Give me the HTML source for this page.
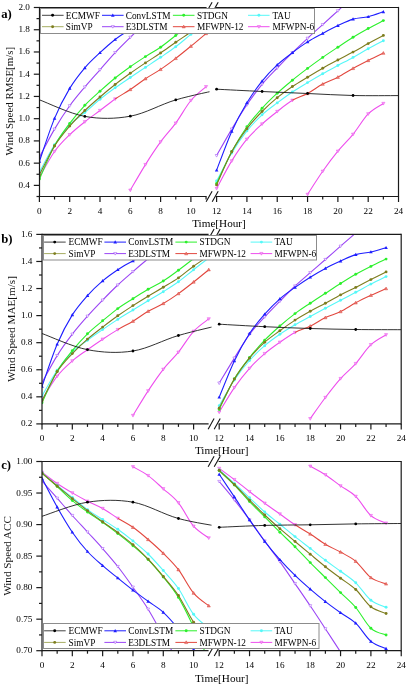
<!DOCTYPE html>
<html><head><meta charset="utf-8"><title>Wind speed metrics</title><style>html,body{margin:0;padding:0;background:#fff;width:407px;height:685px;overflow:hidden;}svg{display:block;font-family:"Liberation Serif",serif;will-change:transform;}</style></head><body><svg width="407" height="685" viewBox="0 0 407 685"><rect width="407" height="685" fill="#fff"/>
<defs><clipPath id="cl0"><rect x="39.5" y="7.5" width="170" height="189"/></clipPath><clipPath id="cr0"><rect x="214.4" y="7.5" width="184.1" height="189"/></clipPath></defs>
<g clip-path="url(#cl0)" fill="none" stroke-width="1.1" stroke-linejoin="round">
<path d="M130.3,190.2 C132.83,185.93 140.4,172.65 145.45,164.6 C150.5,156.55 155.55,148.82 160.6,141.9 C165.65,134.98 170.7,130 175.75,123.1 C180.8,116.2 185.85,106.57 190.9,100.5 C195.95,94.43 203.53,89 206.05,86.7" stroke="#ee4eee"/>
<path d="M130.3,191.8 L131.9,189 L128.7,189 Z" fill="#f0a0f0" stroke="#ee4eee" stroke-width="0.5"/>
<path d="M145.45,166.2 L147.05,163.4 L143.85,163.4 Z" fill="#f0a0f0" stroke="#ee4eee" stroke-width="0.5"/>
<path d="M160.6,143.5 L162.2,140.7 L159,140.7 Z" fill="#f0a0f0" stroke="#ee4eee" stroke-width="0.5"/>
<path d="M175.75,124.7 L177.35,121.9 L174.15,121.9 Z" fill="#f0a0f0" stroke="#ee4eee" stroke-width="0.5"/>
<path d="M190.9,102.1 L192.5,99.3 L189.3,99.3 Z" fill="#f0a0f0" stroke="#ee4eee" stroke-width="0.5"/>
<path d="M206.05,88.3 L207.65,85.5 L204.45,85.5 Z" fill="#f0a0f0" stroke="#ee4eee" stroke-width="0.5"/>
<path d="M39.4,177.4 C41.92,173.08 49.5,158.62 54.55,151.5 C59.6,144.38 64.65,139.65 69.7,134.7 C74.75,129.75 79.8,125.83 84.85,121.8 C89.9,117.77 94.95,114.3 100,110.5 C105.05,106.7 110.1,102.5 115.15,99" stroke="#ee4eee"/>
<path d="M39.4,179 L41,176.2 L37.8,176.2 Z" fill="#f0a0f0" stroke="#ee4eee" stroke-width="0.5"/>
<path d="M54.55,153.1 L56.15,150.3 L52.95,150.3 Z" fill="#f0a0f0" stroke="#ee4eee" stroke-width="0.5"/>
<path d="M69.7,136.3 L71.3,133.5 L68.1,133.5 Z" fill="#f0a0f0" stroke="#ee4eee" stroke-width="0.5"/>
<path d="M84.85,123.4 L86.45,120.6 L83.25,120.6 Z" fill="#f0a0f0" stroke="#ee4eee" stroke-width="0.5"/>
<path d="M100,112.1 L101.6,109.3 L98.4,109.3 Z" fill="#f0a0f0" stroke="#ee4eee" stroke-width="0.5"/>
<path d="M115.15,100.6 L116.75,97.8 L113.55,97.8 Z" fill="#f0a0f0" stroke="#ee4eee" stroke-width="0.5"/>
<path d="M39.4,172 C41.92,167.47 49.5,152.63 54.55,144.8 C59.6,136.97 64.65,130.38 69.7,125 C74.75,119.62 79.8,116.78 84.85,112.5 C89.9,108.22 94.95,103.42 100,99.3 C105.05,95.18 110.1,91.43 115.15,87.8 C120.2,84.17 125.25,80.9 130.3,77.5 C135.35,74.1 140.4,70.77 145.45,67.4 C150.5,64.03 155.55,60.73 160.6,57.3 C165.65,53.87 170.7,50.62 175.75,46.8 C180.8,42.98 185.85,38.37 190.9,34.4 C195.95,30.43 203.53,24.9 206.05,23" stroke="#55f8f8"/>
<circle cx="39.4" cy="172" r="1.45" fill="#55f8f8"/>
<circle cx="54.55" cy="144.8" r="1.45" fill="#55f8f8"/>
<circle cx="69.7" cy="125" r="1.45" fill="#55f8f8"/>
<circle cx="84.85" cy="112.5" r="1.45" fill="#55f8f8"/>
<circle cx="100" cy="99.3" r="1.45" fill="#55f8f8"/>
<circle cx="115.15" cy="87.8" r="1.45" fill="#55f8f8"/>
<circle cx="130.3" cy="77.5" r="1.45" fill="#55f8f8"/>
<circle cx="145.45" cy="67.4" r="1.45" fill="#55f8f8"/>
<circle cx="160.6" cy="57.3" r="1.45" fill="#55f8f8"/>
<circle cx="175.75" cy="46.8" r="1.45" fill="#55f8f8"/>
<circle cx="190.9" cy="34.4" r="1.45" fill="#55f8f8"/>
<circle cx="206.05" cy="23" r="1.45" fill="#55f8f8"/>
<path d="M115.15,99 C120.2,95.5 125.25,92.88 130.3,89.5 C135.35,86.12 140.4,82.05 145.45,78.7 C150.5,75.35 155.55,72.78 160.6,69.4 C165.65,66.02 170.7,62.27 175.75,58.4 C180.8,54.53 185.85,50.35 190.9,46.2 C195.95,42.05 203.53,35.62 206.05,33.5" stroke="#e2483f"/>
<path d="M130.3,87.9 L131.9,90.7 L128.7,90.7 Z" fill="#e37d78" stroke="#e2483f" stroke-width="0.5"/>
<path d="M145.45,77.1 L147.05,79.9 L143.85,79.9 Z" fill="#e37d78" stroke="#e2483f" stroke-width="0.5"/>
<path d="M160.6,67.8 L162.2,70.6 L159,70.6 Z" fill="#e37d78" stroke="#e2483f" stroke-width="0.5"/>
<path d="M175.75,56.8 L177.35,59.6 L174.15,59.6 Z" fill="#e37d78" stroke="#e2483f" stroke-width="0.5"/>
<path d="M190.9,44.6 L192.5,47.4 L189.3,47.4 Z" fill="#e37d78" stroke="#e2483f" stroke-width="0.5"/>
<path d="M206.05,31.9 L207.65,34.7 L204.45,34.7 Z" fill="#e37d78" stroke="#e2483f" stroke-width="0.5"/>
<path d="M39.4,179 C41.92,173.47 49.5,155.07 54.55,145.8 C59.6,136.53 64.65,130.15 69.7,123.4 C74.75,116.65 79.8,110.67 84.85,105.3 C89.9,99.93 94.95,95.75 100,91.2 C105.05,86.65 110.1,82.08 115.15,78 C120.2,73.92 125.25,70.27 130.3,66.7 C135.35,63.13 140.4,59.85 145.45,56.6 C150.5,53.35 155.55,50.72 160.6,47.2 C165.65,43.68 170.7,39.37 175.75,35.5 C180.8,31.63 185.85,27.75 190.9,24 C195.95,20.25 203.53,14.83 206.05,13" stroke="#2cf02c"/>
<circle cx="39.4" cy="179" r="1.45" fill="#2cf02c"/>
<circle cx="54.55" cy="145.8" r="1.45" fill="#2cf02c"/>
<circle cx="69.7" cy="123.4" r="1.45" fill="#2cf02c"/>
<circle cx="84.85" cy="105.3" r="1.45" fill="#2cf02c"/>
<circle cx="100" cy="91.2" r="1.45" fill="#2cf02c"/>
<circle cx="115.15" cy="78" r="1.45" fill="#2cf02c"/>
<circle cx="130.3" cy="66.7" r="1.45" fill="#2cf02c"/>
<circle cx="145.45" cy="56.6" r="1.45" fill="#2cf02c"/>
<circle cx="160.6" cy="47.2" r="1.45" fill="#2cf02c"/>
<circle cx="175.75" cy="35.5" r="1.45" fill="#2cf02c"/>
<circle cx="190.9" cy="24" r="1.45" fill="#2cf02c"/>
<circle cx="206.05" cy="13" r="1.45" fill="#2cf02c"/>
<path d="M39.4,157.2 C41.92,152.52 49.5,137.67 54.55,129.1 C59.6,120.53 64.65,112.82 69.7,105.8 C74.75,98.78 79.8,93 84.85,87 C89.9,81 94.95,75.53 100,69.8 C105.05,64.07 110.1,58.02 115.15,52.6 C120.2,47.18 125.25,42.23 130.3,37.3 C135.35,32.37 140.4,27.55 145.45,23 C150.5,18.45 155.55,14.33 160.6,10 C165.65,5.67 170.7,1.17 175.75,-3 C180.8,-7.17 185.85,-11 190.9,-15 C195.95,-19 203.53,-25 206.05,-27" stroke="#9b45f5"/>
<path d="M39.4,158.7 L40.9,156.07 L37.9,156.07 Z" fill="#fff" stroke="#9b45f5" stroke-width="0.5"/>
<path d="M54.55,130.6 L56.05,127.97 L53.05,127.97 Z" fill="#fff" stroke="#9b45f5" stroke-width="0.5"/>
<path d="M69.7,107.3 L71.2,104.67 L68.2,104.67 Z" fill="#fff" stroke="#9b45f5" stroke-width="0.5"/>
<path d="M84.85,88.5 L86.35,85.88 L83.35,85.88 Z" fill="#fff" stroke="#9b45f5" stroke-width="0.5"/>
<path d="M100,71.3 L101.5,68.67 L98.5,68.67 Z" fill="#fff" stroke="#9b45f5" stroke-width="0.5"/>
<path d="M115.15,54.1 L116.65,51.48 L113.65,51.48 Z" fill="#fff" stroke="#9b45f5" stroke-width="0.5"/>
<path d="M130.3,38.8 L131.8,36.17 L128.8,36.17 Z" fill="#fff" stroke="#9b45f5" stroke-width="0.5"/>
<path d="M145.45,24.5 L146.95,21.88 L143.95,21.88 Z" fill="#fff" stroke="#9b45f5" stroke-width="0.5"/>
<path d="M160.6,11.5 L162.1,8.88 L159.1,8.88 Z" fill="#fff" stroke="#9b45f5" stroke-width="0.5"/>
<path d="M175.75,-1.5 L177.25,-4.12 L174.25,-4.12 Z" fill="#fff" stroke="#9b45f5" stroke-width="0.5"/>
<path d="M190.9,-13.5 L192.4,-16.12 L189.4,-16.12 Z" fill="#fff" stroke="#9b45f5" stroke-width="0.5"/>
<path d="M206.05,-25.5 L207.55,-28.12 L204.55,-28.12 Z" fill="#fff" stroke="#9b45f5" stroke-width="0.5"/>
<path d="M39.4,161.4 C41.92,154.23 49.5,130.57 54.55,118.4 C59.6,106.23 64.65,96.83 69.7,88.4 C74.75,79.97 79.8,73.75 84.85,67.8 C89.9,61.85 94.95,57.42 100,52.7 C105.05,47.98 110.1,43.37 115.15,39.5 C120.2,35.63 125.25,32.58 130.3,29.5 C135.35,26.42 140.4,23.58 145.45,21 C150.5,18.42 155.55,16.17 160.6,14 C165.65,11.83 170.7,9.83 175.75,8 C180.8,6.17 185.85,4.5 190.9,3 C195.95,1.5 203.53,-0.33 206.05,-1" stroke="#1e1eff"/>
<path d="M39.4,159.6 L41.2,162.75 L37.6,162.75 Z" fill="#1e1eff"/>
<path d="M54.55,116.6 L56.35,119.75 L52.75,119.75 Z" fill="#1e1eff"/>
<path d="M69.7,86.6 L71.5,89.75 L67.9,89.75 Z" fill="#1e1eff"/>
<path d="M84.85,66 L86.65,69.15 L83.05,69.15 Z" fill="#1e1eff"/>
<path d="M100,50.9 L101.8,54.05 L98.2,54.05 Z" fill="#1e1eff"/>
<path d="M115.15,37.7 L116.95,40.85 L113.35,40.85 Z" fill="#1e1eff"/>
<path d="M130.3,27.7 L132.1,30.85 L128.5,30.85 Z" fill="#1e1eff"/>
<path d="M145.45,19.2 L147.25,22.35 L143.65,22.35 Z" fill="#1e1eff"/>
<path d="M160.6,12.2 L162.4,15.35 L158.8,15.35 Z" fill="#1e1eff"/>
<path d="M175.75,6.2 L177.55,9.35 L173.95,9.35 Z" fill="#1e1eff"/>
<path d="M190.9,1.2 L192.7,4.35 L189.1,4.35 Z" fill="#1e1eff"/>
<path d="M206.05,-2.8 L207.85,0.35 L204.25,0.35 Z" fill="#1e1eff"/>
<path d="M39.4,174.9 C41.92,170.08 49.5,154.13 54.55,146 C59.6,137.87 64.65,132.02 69.7,126.1 C74.75,120.18 79.8,115.35 84.85,110.5 C89.9,105.65 94.95,101.33 100,97 C105.05,92.67 110.1,88.45 115.15,84.5 C120.2,80.55 125.25,76.9 130.3,73.3 C135.35,69.7 140.4,66.28 145.45,62.9 C150.5,59.52 155.55,56.43 160.6,53 C165.65,49.57 170.7,45.8 175.75,42.3 C180.8,38.8 185.85,35.55 190.9,32 C195.95,28.45 203.53,22.83 206.05,21" stroke="#7d7d1e"/>
<circle cx="39.4" cy="174.9" r="1.45" fill="#7d7d1e"/>
<circle cx="54.55" cy="146" r="1.45" fill="#7d7d1e"/>
<circle cx="69.7" cy="126.1" r="1.45" fill="#7d7d1e"/>
<circle cx="84.85" cy="110.5" r="1.45" fill="#7d7d1e"/>
<circle cx="100" cy="97" r="1.45" fill="#7d7d1e"/>
<circle cx="115.15" cy="84.5" r="1.45" fill="#7d7d1e"/>
<circle cx="130.3" cy="73.3" r="1.45" fill="#7d7d1e"/>
<circle cx="145.45" cy="62.9" r="1.45" fill="#7d7d1e"/>
<circle cx="160.6" cy="53" r="1.45" fill="#7d7d1e"/>
<circle cx="175.75" cy="42.3" r="1.45" fill="#7d7d1e"/>
<circle cx="190.9" cy="32" r="1.45" fill="#7d7d1e"/>
<circle cx="206.05" cy="21" r="1.45" fill="#7d7d1e"/>
<path d="M39.4,99.8 C46.97,102.57 69.7,113.67 84.85,116.4 C100,119.13 115.15,118.95 130.3,116.2 C145.45,113.45 160.6,104.4 175.75,99.9 C190.9,95.4 213.62,90.98 221.2,89.2" stroke="#1a1a1a" stroke-width="0.9"/>
<circle cx="84.85" cy="116.4" r="1.38" fill="#000"/>
<circle cx="130.3" cy="116.2" r="1.38" fill="#000"/>
<circle cx="175.75" cy="99.9" r="1.38" fill="#000"/>
</g>
<g clip-path="url(#cr0)" fill="none" stroke-width="1.1" stroke-linejoin="round">
<path d="M307.56,194.4 C310.09,190.55 317.67,178.5 322.72,171.3 C327.77,164.1 332.83,157.37 337.88,151.2 C342.93,145.03 347.99,140.52 353.04,134.3 C358.09,128.08 363.15,119.03 368.2,113.9 C373.25,108.77 380.83,105.23 383.36,103.5" stroke="#ee4eee"/>
<path d="M307.56,196 L309.16,193.2 L305.96,193.2 Z" fill="#f0a0f0" stroke="#ee4eee" stroke-width="0.5"/>
<path d="M322.72,172.9 L324.32,170.1 L321.12,170.1 Z" fill="#f0a0f0" stroke="#ee4eee" stroke-width="0.5"/>
<path d="M337.88,152.8 L339.48,150 L336.28,150 Z" fill="#f0a0f0" stroke="#ee4eee" stroke-width="0.5"/>
<path d="M353.04,135.9 L354.64,133.1 L351.44,133.1 Z" fill="#f0a0f0" stroke="#ee4eee" stroke-width="0.5"/>
<path d="M368.2,115.5 L369.8,112.7 L366.6,112.7 Z" fill="#f0a0f0" stroke="#ee4eee" stroke-width="0.5"/>
<path d="M383.36,105.1 L384.96,102.3 L381.76,102.3 Z" fill="#f0a0f0" stroke="#ee4eee" stroke-width="0.5"/>
<path d="M216.6,188.5 C219.13,183.9 226.71,169.12 231.76,160.9 C236.81,152.68 241.87,145.35 246.92,139.2 C251.97,133.05 257.03,128.62 262.08,124 C267.13,119.38 272.19,115.45 277.24,111.5 C282.29,107.55 287.35,103.3 292.4,100.3" stroke="#ee4eee"/>
<path d="M216.6,190.1 L218.2,187.3 L215,187.3 Z" fill="#f0a0f0" stroke="#ee4eee" stroke-width="0.5"/>
<path d="M231.76,162.5 L233.36,159.7 L230.16,159.7 Z" fill="#f0a0f0" stroke="#ee4eee" stroke-width="0.5"/>
<path d="M246.92,140.8 L248.52,138 L245.32,138 Z" fill="#f0a0f0" stroke="#ee4eee" stroke-width="0.5"/>
<path d="M262.08,125.6 L263.68,122.8 L260.48,122.8 Z" fill="#f0a0f0" stroke="#ee4eee" stroke-width="0.5"/>
<path d="M277.24,113.1 L278.84,110.3 L275.64,110.3 Z" fill="#f0a0f0" stroke="#ee4eee" stroke-width="0.5"/>
<path d="M292.4,101.9 L294,99.1 L290.8,99.1 Z" fill="#f0a0f0" stroke="#ee4eee" stroke-width="0.5"/>
<path d="M216.6,181 C219.13,176.33 226.71,161.35 231.76,153 C236.81,144.65 241.87,137.27 246.92,130.9 C251.97,124.53 257.03,119.47 262.08,114.8 C267.13,110.13 272.19,106.7 277.24,102.9 C282.29,99.1 287.35,95.38 292.4,92 C297.45,88.62 302.51,85.65 307.56,82.6 C312.61,79.55 317.67,76.55 322.72,73.7 C327.77,70.85 332.83,68.22 337.88,65.5 C342.93,62.78 347.99,60.2 353.04,57.4 C358.09,54.6 363.15,51.48 368.2,48.7 C373.25,45.92 380.83,42.03 383.36,40.7" stroke="#55f8f8"/>
<circle cx="216.6" cy="181" r="1.45" fill="#55f8f8"/>
<circle cx="231.76" cy="153" r="1.45" fill="#55f8f8"/>
<circle cx="246.92" cy="130.9" r="1.45" fill="#55f8f8"/>
<circle cx="262.08" cy="114.8" r="1.45" fill="#55f8f8"/>
<circle cx="277.24" cy="102.9" r="1.45" fill="#55f8f8"/>
<circle cx="292.4" cy="92" r="1.45" fill="#55f8f8"/>
<circle cx="307.56" cy="82.6" r="1.45" fill="#55f8f8"/>
<circle cx="322.72" cy="73.7" r="1.45" fill="#55f8f8"/>
<circle cx="337.88" cy="65.5" r="1.45" fill="#55f8f8"/>
<circle cx="353.04" cy="57.4" r="1.45" fill="#55f8f8"/>
<circle cx="368.2" cy="48.7" r="1.45" fill="#55f8f8"/>
<circle cx="383.36" cy="40.7" r="1.45" fill="#55f8f8"/>
<path d="M292.4,100.3 C297.45,97.3 302.51,96.2 307.56,93.5 C312.61,90.8 317.67,86.82 322.72,84.1 C327.77,81.38 332.83,79.82 337.88,77.2 C342.93,74.58 347.99,71.18 353.04,68.4 C358.09,65.62 363.15,63.05 368.2,60.5 C373.25,57.95 380.83,54.33 383.36,53.1" stroke="#e2483f"/>
<path d="M307.56,91.9 L309.16,94.7 L305.96,94.7 Z" fill="#e37d78" stroke="#e2483f" stroke-width="0.5"/>
<path d="M322.72,82.5 L324.32,85.3 L321.12,85.3 Z" fill="#e37d78" stroke="#e2483f" stroke-width="0.5"/>
<path d="M337.88,75.6 L339.48,78.4 L336.28,78.4 Z" fill="#e37d78" stroke="#e2483f" stroke-width="0.5"/>
<path d="M353.04,66.8 L354.64,69.6 L351.44,69.6 Z" fill="#e37d78" stroke="#e2483f" stroke-width="0.5"/>
<path d="M368.2,58.9 L369.8,61.7 L366.6,61.7 Z" fill="#e37d78" stroke="#e2483f" stroke-width="0.5"/>
<path d="M383.36,51.5 L384.96,54.3 L381.76,54.3 Z" fill="#e37d78" stroke="#e2483f" stroke-width="0.5"/>
<path d="M216.6,183.5 C219.13,178.17 226.71,160.97 231.76,151.5 C236.81,142.03 241.87,133.9 246.92,126.7 C251.97,119.5 257.03,113.88 262.08,108.3 C267.13,102.72 272.19,97.88 277.24,93.2 C282.29,88.52 287.35,84.33 292.4,80.2 C297.45,76.07 302.51,72.2 307.56,68.4 C312.61,64.6 317.67,60.93 322.72,57.4 C327.77,53.87 332.83,50.55 337.88,47.2 C342.93,43.85 347.99,40.42 353.04,37.3 C358.09,34.18 363.15,31.28 368.2,28.5 C373.25,25.72 380.83,21.92 383.36,20.6" stroke="#2cf02c"/>
<circle cx="216.6" cy="183.5" r="1.45" fill="#2cf02c"/>
<circle cx="231.76" cy="151.5" r="1.45" fill="#2cf02c"/>
<circle cx="246.92" cy="126.7" r="1.45" fill="#2cf02c"/>
<circle cx="262.08" cy="108.3" r="1.45" fill="#2cf02c"/>
<circle cx="277.24" cy="93.2" r="1.45" fill="#2cf02c"/>
<circle cx="292.4" cy="80.2" r="1.45" fill="#2cf02c"/>
<circle cx="307.56" cy="68.4" r="1.45" fill="#2cf02c"/>
<circle cx="322.72" cy="57.4" r="1.45" fill="#2cf02c"/>
<circle cx="337.88" cy="47.2" r="1.45" fill="#2cf02c"/>
<circle cx="353.04" cy="37.3" r="1.45" fill="#2cf02c"/>
<circle cx="368.2" cy="28.5" r="1.45" fill="#2cf02c"/>
<circle cx="383.36" cy="20.6" r="1.45" fill="#2cf02c"/>
<path d="M216.6,155.6 C219.13,151.18 226.71,137.57 231.76,129.1 C236.81,120.63 241.87,112.27 246.92,104.8 C251.97,97.33 257.03,90.43 262.08,84.3 C267.13,78.17 272.19,73.27 277.24,68 C282.29,62.73 287.35,57.65 292.4,52.7 C297.45,47.75 302.51,42.98 307.56,38.3 C312.61,33.62 317.67,29.18 322.72,24.6 C327.77,20.02 332.83,15.4 337.88,10.8 C342.93,6.2 347.99,1.47 353.04,-3 C358.09,-7.47 363.15,-11.67 368.2,-16 C373.25,-20.33 380.83,-26.83 383.36,-29" stroke="#9b45f5"/>
<path d="M216.6,157.1 L218.1,154.47 L215.1,154.47 Z" fill="#fff" stroke="#9b45f5" stroke-width="0.5"/>
<path d="M231.76,130.6 L233.26,127.97 L230.26,127.97 Z" fill="#fff" stroke="#9b45f5" stroke-width="0.5"/>
<path d="M246.92,106.3 L248.42,103.67 L245.42,103.67 Z" fill="#fff" stroke="#9b45f5" stroke-width="0.5"/>
<path d="M262.08,85.8 L263.58,83.17 L260.58,83.17 Z" fill="#fff" stroke="#9b45f5" stroke-width="0.5"/>
<path d="M277.24,69.5 L278.74,66.88 L275.74,66.88 Z" fill="#fff" stroke="#9b45f5" stroke-width="0.5"/>
<path d="M292.4,54.2 L293.9,51.58 L290.9,51.58 Z" fill="#fff" stroke="#9b45f5" stroke-width="0.5"/>
<path d="M307.56,39.8 L309.06,37.17 L306.06,37.17 Z" fill="#fff" stroke="#9b45f5" stroke-width="0.5"/>
<path d="M322.72,26.1 L324.22,23.48 L321.22,23.48 Z" fill="#fff" stroke="#9b45f5" stroke-width="0.5"/>
<path d="M337.88,12.3 L339.38,9.68 L336.38,9.68 Z" fill="#fff" stroke="#9b45f5" stroke-width="0.5"/>
<path d="M353.04,-1.5 L354.54,-4.12 L351.54,-4.12 Z" fill="#fff" stroke="#9b45f5" stroke-width="0.5"/>
<path d="M368.2,-14.5 L369.7,-17.12 L366.7,-17.12 Z" fill="#fff" stroke="#9b45f5" stroke-width="0.5"/>
<path d="M383.36,-27.5 L384.86,-30.12 L381.86,-30.12 Z" fill="#fff" stroke="#9b45f5" stroke-width="0.5"/>
<path d="M216.6,170.2 C219.13,163.73 226.71,142.63 231.76,131.4 C236.81,120.17 241.87,111.18 246.92,102.8 C251.97,94.42 257.03,87.42 262.08,81.1 C267.13,74.78 272.19,69.63 277.24,64.9 C282.29,60.17 287.35,56.53 292.4,52.7 C297.45,48.87 302.51,45.12 307.56,41.9 C312.61,38.68 317.67,36.12 322.72,33.4 C327.77,30.68 332.83,27.98 337.88,25.6 C342.93,23.22 347.99,20.58 353.04,19.1 C358.09,17.62 363.15,17.92 368.2,16.7 C373.25,15.48 380.83,12.62 383.36,11.8" stroke="#1e1eff"/>
<path d="M216.6,168.4 L218.4,171.55 L214.8,171.55 Z" fill="#1e1eff"/>
<path d="M231.76,129.6 L233.56,132.75 L229.96,132.75 Z" fill="#1e1eff"/>
<path d="M246.92,101 L248.72,104.15 L245.12,104.15 Z" fill="#1e1eff"/>
<path d="M262.08,79.3 L263.88,82.45 L260.28,82.45 Z" fill="#1e1eff"/>
<path d="M277.24,63.1 L279.04,66.25 L275.44,66.25 Z" fill="#1e1eff"/>
<path d="M292.4,50.9 L294.2,54.05 L290.6,54.05 Z" fill="#1e1eff"/>
<path d="M307.56,40.1 L309.36,43.25 L305.76,43.25 Z" fill="#1e1eff"/>
<path d="M322.72,31.6 L324.52,34.75 L320.92,34.75 Z" fill="#1e1eff"/>
<path d="M337.88,23.8 L339.68,26.95 L336.08,26.95 Z" fill="#1e1eff"/>
<path d="M353.04,17.3 L354.84,20.45 L351.24,20.45 Z" fill="#1e1eff"/>
<path d="M368.2,14.9 L370,18.05 L366.4,18.05 Z" fill="#1e1eff"/>
<path d="M383.36,10 L385.16,13.15 L381.56,13.15 Z" fill="#1e1eff"/>
<path d="M216.6,184.9 C219.13,179.38 226.71,161.17 231.76,151.8 C236.81,142.43 241.87,135.42 246.92,128.7 C251.97,121.98 257.03,116.67 262.08,111.5 C267.13,106.33 272.19,101.87 277.24,97.7 C282.29,93.53 287.35,89.92 292.4,86.5 C297.45,83.08 302.51,80.25 307.56,77.2 C312.61,74.15 317.67,71.07 322.72,68.2 C327.77,65.33 332.83,62.68 337.88,60 C342.93,57.32 347.99,54.83 353.04,52.1 C358.09,49.37 363.15,46.38 368.2,43.6 C373.25,40.82 380.83,36.77 383.36,35.4" stroke="#7d7d1e"/>
<circle cx="216.6" cy="184.9" r="1.45" fill="#7d7d1e"/>
<circle cx="231.76" cy="151.8" r="1.45" fill="#7d7d1e"/>
<circle cx="246.92" cy="128.7" r="1.45" fill="#7d7d1e"/>
<circle cx="262.08" cy="111.5" r="1.45" fill="#7d7d1e"/>
<circle cx="277.24" cy="97.7" r="1.45" fill="#7d7d1e"/>
<circle cx="292.4" cy="86.5" r="1.45" fill="#7d7d1e"/>
<circle cx="307.56" cy="77.2" r="1.45" fill="#7d7d1e"/>
<circle cx="322.72" cy="68.2" r="1.45" fill="#7d7d1e"/>
<circle cx="337.88" cy="60" r="1.45" fill="#7d7d1e"/>
<circle cx="353.04" cy="52.1" r="1.45" fill="#7d7d1e"/>
<circle cx="368.2" cy="43.6" r="1.45" fill="#7d7d1e"/>
<circle cx="383.36" cy="35.4" r="1.45" fill="#7d7d1e"/>
<path d="M216.6,89.2 C224.18,89.58 246.92,90.78 262.08,91.5 C277.24,92.22 292.4,92.83 307.56,93.5 C322.72,94.17 337.88,95.15 353.04,95.5 C368.2,95.85 390.94,95.58 398.52,95.6" stroke="#1a1a1a" stroke-width="0.9"/>
<circle cx="216.6" cy="89.2" r="1.38" fill="#000"/>
<circle cx="262.08" cy="91.5" r="1.38" fill="#000"/>
<circle cx="307.56" cy="93.5" r="1.38" fill="#000"/>
<circle cx="353.04" cy="95.5" r="1.38" fill="#000"/>
</g>
<g stroke="#1a1a1a" stroke-width="1.2" fill="none"><line x1="39.5" y1="6.9" x2="39.5" y2="197.1"/><line x1="398.5" y1="6.9" x2="398.5" y2="197.1"/><line x1="39.5" y1="7.5" x2="206.6" y2="7.5"/><line x1="215.9" y1="7.5" x2="398.5" y2="7.5"/><line x1="39.5" y1="196.5" x2="206.6" y2="196.5"/><line x1="215.9" y1="196.5" x2="398.5" y2="196.5"/><line x1="33.8" y1="185.38" x2="39.5" y2="185.38"/><line x1="33.8" y1="163.15" x2="39.5" y2="163.15"/><line x1="33.8" y1="140.91" x2="39.5" y2="140.91"/><line x1="33.8" y1="118.68" x2="39.5" y2="118.68"/><line x1="33.8" y1="96.44" x2="39.5" y2="96.44"/><line x1="33.8" y1="74.21" x2="39.5" y2="74.21"/><line x1="33.8" y1="51.97" x2="39.5" y2="51.97"/><line x1="33.8" y1="29.74" x2="39.5" y2="29.74"/><line x1="33.8" y1="7.5" x2="39.5" y2="7.5"/><line x1="36.5" y1="196.5" x2="39.5" y2="196.5"/><line x1="36.5" y1="174.26" x2="39.5" y2="174.26"/><line x1="36.5" y1="152.03" x2="39.5" y2="152.03"/><line x1="36.5" y1="129.79" x2="39.5" y2="129.79"/><line x1="36.5" y1="107.56" x2="39.5" y2="107.56"/><line x1="36.5" y1="85.32" x2="39.5" y2="85.32"/><line x1="36.5" y1="63.09" x2="39.5" y2="63.09"/><line x1="36.5" y1="40.85" x2="39.5" y2="40.85"/><line x1="36.5" y1="18.62" x2="39.5" y2="18.62"/><line x1="39.4" y1="196.5" x2="39.4" y2="202"/><line x1="54.55" y1="196.5" x2="54.55" y2="199.5"/><line x1="69.7" y1="196.5" x2="69.7" y2="202"/><line x1="84.85" y1="196.5" x2="84.85" y2="199.5"/><line x1="100" y1="196.5" x2="100" y2="202"/><line x1="115.15" y1="196.5" x2="115.15" y2="199.5"/><line x1="130.3" y1="196.5" x2="130.3" y2="202"/><line x1="145.45" y1="196.5" x2="145.45" y2="199.5"/><line x1="160.6" y1="196.5" x2="160.6" y2="202"/><line x1="175.75" y1="196.5" x2="175.75" y2="199.5"/><line x1="190.9" y1="196.5" x2="190.9" y2="202"/><line x1="206.05" y1="196.5" x2="206.05" y2="199.5"/><line x1="216.6" y1="196.5" x2="216.6" y2="202"/><line x1="231.76" y1="196.5" x2="231.76" y2="199.5"/><line x1="246.92" y1="196.5" x2="246.92" y2="202"/><line x1="262.08" y1="196.5" x2="262.08" y2="199.5"/><line x1="277.24" y1="196.5" x2="277.24" y2="202"/><line x1="292.4" y1="196.5" x2="292.4" y2="199.5"/><line x1="307.56" y1="196.5" x2="307.56" y2="202"/><line x1="322.72" y1="196.5" x2="322.72" y2="199.5"/><line x1="337.88" y1="196.5" x2="337.88" y2="202"/><line x1="353.04" y1="196.5" x2="353.04" y2="199.5"/><line x1="368.2" y1="196.5" x2="368.2" y2="202"/><line x1="383.36" y1="196.5" x2="383.36" y2="199.5"/><line x1="398.52" y1="196.5" x2="398.52" y2="202"/></g>
<g stroke="#111" stroke-width="1.1"><line x1="206.1" y1="12.8" x2="212.1" y2="2.2"/><line x1="212.2" y1="12.8" x2="218.2" y2="2.2"/><line x1="206.1" y1="201.8" x2="212.1" y2="191.2"/><line x1="212.2" y1="201.8" x2="218.2" y2="191.2"/></g>
<g font-family="Liberation Serif, serif"><rect x="40.5" y="8.5" width="274" height="25" fill="#fff" stroke="#8c8c8c" stroke-width="1"/><line x1="42" y1="15.3" x2="63.6" y2="15.3" stroke="#444" stroke-width="1"/><circle cx="52.6" cy="15.3" r="1.45" fill="#000"/><text x="65.8" y="18.6" font-size="9.3" fill="#000">ECMWF</text><line x1="102" y1="15.3" x2="123.6" y2="15.3" stroke="#1e1eff" stroke-width="1"/><path d="M112.8,13.5 L114.6,16.65 L111,16.65 Z" fill="#1e1eff"/><text x="125.7" y="18.6" font-size="9.3" fill="#000">ConvLSTM</text><line x1="172.9" y1="15.3" x2="194.5" y2="15.3" stroke="#2cf02c" stroke-width="1"/><circle cx="183.7" cy="15.3" r="1.45" fill="#2cf02c"/><text x="197" y="18.6" font-size="9.3" fill="#000">STDGN</text><line x1="248" y1="15.3" x2="269.6" y2="15.3" stroke="#55f8f8" stroke-width="1"/><circle cx="258.9" cy="15.3" r="1.45" fill="#55f8f8"/><text x="272.4" y="18.6" font-size="9.3" fill="#000">TAU</text><line x1="42" y1="26.7" x2="63.6" y2="26.7" stroke="#a6ad62" stroke-width="1"/><circle cx="52.6" cy="26.7" r="1.45" fill="#7d7d1e"/><text x="65.8" y="30" font-size="9.3" fill="#000">SimVP</text><line x1="102" y1="26.7" x2="123.6" y2="26.7" stroke="#9b45f5" stroke-width="1"/><path d="M112.8,28.2 L114.3,25.57 L111.3,25.57 Z" fill="#fff" stroke="#9b45f5" stroke-width="0.5"/><text x="125.7" y="30" font-size="9.3" fill="#000">E3DLSTM</text><line x1="172.9" y1="26.7" x2="194.5" y2="26.7" stroke="#e2483f" stroke-width="1"/><path d="M183.7,25.1 L185.3,27.9 L182.1,27.9 Z" fill="#e37d78" stroke="#e2483f" stroke-width="0.5"/><text x="197" y="30" font-size="9.3" fill="#000">MFWPN-12</text><line x1="248" y1="26.7" x2="269.6" y2="26.7" stroke="#ee4eee" stroke-width="1"/><path d="M258.9,28.3 L260.5,25.5 L257.3,25.5 Z" fill="#f0a0f0" stroke="#ee4eee" stroke-width="0.5"/><text x="272.4" y="30" font-size="9.3" fill="#000">MFWPN-6</text></g>
<g font-family="Liberation Serif, serif" font-size="9.2" fill="#000"><text x="29.9" y="187.88" text-anchor="end">0.4</text><text x="29.9" y="165.65" text-anchor="end">0.6</text><text x="29.9" y="143.41" text-anchor="end">0.8</text><text x="29.9" y="121.18" text-anchor="end">1.0</text><text x="29.9" y="98.94" text-anchor="end">1.2</text><text x="29.9" y="76.71" text-anchor="end">1.4</text><text x="29.9" y="54.47" text-anchor="end">1.6</text><text x="29.9" y="32.24" text-anchor="end">1.8</text><text x="29.9" y="10" text-anchor="end">2.0</text><text x="39.4" y="213.8" text-anchor="middle">0</text><text x="69.7" y="213.8" text-anchor="middle">2</text><text x="100" y="213.8" text-anchor="middle">4</text><text x="130.3" y="213.8" text-anchor="middle">6</text><text x="160.6" y="213.8" text-anchor="middle">8</text><text x="190.9" y="213.8" text-anchor="middle">10</text><text x="216.6" y="213.8" text-anchor="middle">12</text><text x="246.92" y="213.8" text-anchor="middle">14</text><text x="277.24" y="213.8" text-anchor="middle">16</text><text x="307.56" y="213.8" text-anchor="middle">18</text><text x="337.88" y="213.8" text-anchor="middle">20</text><text x="368.2" y="213.8" text-anchor="middle">22</text><text x="398.52" y="213.8" text-anchor="middle">24</text></g>
<text font-family="Liberation Serif, serif" font-size="11.2" fill="#000" x="219" y="227.4" text-anchor="middle">Time[Hour]</text>
<text font-family="Liberation Serif, serif" font-size="10.9" fill="#111" text-anchor="middle" transform="translate(12.8,101.2) rotate(-90)">Wind Speed RMSE[m/s]</text>
<text font-family="Liberation Serif, serif" font-size="12.7" font-weight="bold" fill="#000" x="1.2" y="17.7">a)</text>
<defs><clipPath id="cl1"><rect x="42" y="234.4" width="169.5" height="189.5"/></clipPath><clipPath id="cr1"><rect x="217.1" y="234.4" width="184.1" height="189.5"/></clipPath></defs>
<g clip-path="url(#cl1)" fill="none" stroke-width="1.1" stroke-linejoin="round">
<path d="M132.96,415.5 C135.49,411.4 143.07,398.6 148.12,390.9 C153.17,383.2 158.23,375.75 163.28,369.3 C168.33,362.85 173.39,358.53 178.44,352.2 C183.49,345.87 188.55,336.85 193.6,331.3 C198.65,325.75 206.23,320.97 208.76,318.9" stroke="#ee4eee"/>
<path d="M132.96,417.1 L134.56,414.3 L131.36,414.3 Z" fill="#f0a0f0" stroke="#ee4eee" stroke-width="0.5"/>
<path d="M148.12,392.5 L149.72,389.7 L146.52,389.7 Z" fill="#f0a0f0" stroke="#ee4eee" stroke-width="0.5"/>
<path d="M163.28,370.9 L164.88,368.1 L161.68,368.1 Z" fill="#f0a0f0" stroke="#ee4eee" stroke-width="0.5"/>
<path d="M178.44,353.8 L180.04,351 L176.84,351 Z" fill="#f0a0f0" stroke="#ee4eee" stroke-width="0.5"/>
<path d="M193.6,332.9 L195.2,330.1 L192,330.1 Z" fill="#f0a0f0" stroke="#ee4eee" stroke-width="0.5"/>
<path d="M208.76,320.5 L210.36,317.7 L207.16,317.7 Z" fill="#f0a0f0" stroke="#ee4eee" stroke-width="0.5"/>
<path d="M42,399.8 C44.53,395.87 52.11,382.68 57.16,376.2 C62.21,369.72 67.27,365.32 72.32,360.9 C77.37,356.48 82.43,353.32 87.48,349.7 C92.53,346.08 97.59,342.55 102.64,339.2 C107.69,335.85 112.75,332.6 117.8,329.6" stroke="#ee4eee"/>
<path d="M42,401.4 L43.6,398.6 L40.4,398.6 Z" fill="#f0a0f0" stroke="#ee4eee" stroke-width="0.5"/>
<path d="M57.16,377.8 L58.76,375 L55.56,375 Z" fill="#f0a0f0" stroke="#ee4eee" stroke-width="0.5"/>
<path d="M72.32,362.5 L73.92,359.7 L70.72,359.7 Z" fill="#f0a0f0" stroke="#ee4eee" stroke-width="0.5"/>
<path d="M87.48,351.3 L89.08,348.5 L85.88,348.5 Z" fill="#f0a0f0" stroke="#ee4eee" stroke-width="0.5"/>
<path d="M102.64,340.8 L104.24,338 L101.04,338 Z" fill="#f0a0f0" stroke="#ee4eee" stroke-width="0.5"/>
<path d="M117.8,331.2 L119.4,328.4 L116.2,328.4 Z" fill="#f0a0f0" stroke="#ee4eee" stroke-width="0.5"/>
<path d="M42,395.8 C44.53,391.55 52.11,377.6 57.16,370.3 C62.21,363 67.27,357.02 72.32,352 C77.37,346.98 82.43,343.93 87.48,340.2 C92.53,336.47 97.59,333.07 102.64,329.6 C107.69,326.13 112.75,322.67 117.8,319.4 C122.85,316.13 127.91,313.12 132.96,310 C138.01,306.88 143.07,303.75 148.12,300.7 C153.17,297.65 158.23,294.85 163.28,291.7 C168.33,288.55 173.39,285.47 178.44,281.8 C183.49,278.13 188.55,273.67 193.6,269.7 C198.65,265.73 206.23,259.95 208.76,258" stroke="#55f8f8"/>
<circle cx="42" cy="395.8" r="1.45" fill="#55f8f8"/>
<circle cx="57.16" cy="370.3" r="1.45" fill="#55f8f8"/>
<circle cx="72.32" cy="352" r="1.45" fill="#55f8f8"/>
<circle cx="87.48" cy="340.2" r="1.45" fill="#55f8f8"/>
<circle cx="102.64" cy="329.6" r="1.45" fill="#55f8f8"/>
<circle cx="117.8" cy="319.4" r="1.45" fill="#55f8f8"/>
<circle cx="132.96" cy="310" r="1.45" fill="#55f8f8"/>
<circle cx="148.12" cy="300.7" r="1.45" fill="#55f8f8"/>
<circle cx="163.28" cy="291.7" r="1.45" fill="#55f8f8"/>
<circle cx="178.44" cy="281.8" r="1.45" fill="#55f8f8"/>
<circle cx="193.6" cy="269.7" r="1.45" fill="#55f8f8"/>
<circle cx="208.76" cy="258" r="1.45" fill="#55f8f8"/>
<path d="M117.8,329.6 C122.85,326.6 127.91,324.25 132.96,321.2 C138.01,318.15 143.07,314.25 148.12,311.3 C153.17,308.35 158.23,306.45 163.28,303.5 C168.33,300.55 173.39,297.18 178.44,293.6 C183.49,290.02 188.55,285.98 193.6,282 C198.65,278.02 206.23,271.75 208.76,269.7" stroke="#e2483f"/>
<path d="M132.96,319.6 L134.56,322.4 L131.36,322.4 Z" fill="#e37d78" stroke="#e2483f" stroke-width="0.5"/>
<path d="M148.12,309.7 L149.72,312.5 L146.52,312.5 Z" fill="#e37d78" stroke="#e2483f" stroke-width="0.5"/>
<path d="M163.28,301.9 L164.88,304.7 L161.68,304.7 Z" fill="#e37d78" stroke="#e2483f" stroke-width="0.5"/>
<path d="M178.44,292 L180.04,294.8 L176.84,294.8 Z" fill="#e37d78" stroke="#e2483f" stroke-width="0.5"/>
<path d="M193.6,280.4 L195.2,283.2 L192,283.2 Z" fill="#e37d78" stroke="#e2483f" stroke-width="0.5"/>
<path d="M208.76,268.1 L210.36,270.9 L207.16,270.9 Z" fill="#e37d78" stroke="#e2483f" stroke-width="0.5"/>
<path d="M42,402.7 C44.53,397.47 52.11,379.98 57.16,371.3 C62.21,362.62 67.27,356.85 72.32,350.6 C77.37,344.35 82.43,338.77 87.48,333.8 C92.53,328.83 97.59,325 102.64,320.8 C107.69,316.6 112.75,312.28 117.8,308.6 C122.85,304.92 127.91,301.92 132.96,298.7 C138.01,295.48 143.07,292.25 148.12,289.3 C153.17,286.35 158.23,284.18 163.28,281 C168.33,277.82 173.39,273.9 178.44,270.2 C183.49,266.5 188.55,262.5 193.6,258.8 C198.65,255.1 206.23,249.8 208.76,248" stroke="#2cf02c"/>
<circle cx="42" cy="402.7" r="1.45" fill="#2cf02c"/>
<circle cx="57.16" cy="371.3" r="1.45" fill="#2cf02c"/>
<circle cx="72.32" cy="350.6" r="1.45" fill="#2cf02c"/>
<circle cx="87.48" cy="333.8" r="1.45" fill="#2cf02c"/>
<circle cx="102.64" cy="320.8" r="1.45" fill="#2cf02c"/>
<circle cx="117.8" cy="308.6" r="1.45" fill="#2cf02c"/>
<circle cx="132.96" cy="298.7" r="1.45" fill="#2cf02c"/>
<circle cx="148.12" cy="289.3" r="1.45" fill="#2cf02c"/>
<circle cx="163.28" cy="281" r="1.45" fill="#2cf02c"/>
<circle cx="178.44" cy="270.2" r="1.45" fill="#2cf02c"/>
<circle cx="193.6" cy="258.8" r="1.45" fill="#2cf02c"/>
<circle cx="208.76" cy="248" r="1.45" fill="#2cf02c"/>
<path d="M42,382.7 C44.53,378.18 52.11,363.68 57.16,355.6 C62.21,347.52 67.27,340.77 72.32,334.2 C77.37,327.63 82.43,321.88 87.48,316.2 C92.53,310.52 97.59,305.3 102.64,300.1 C107.69,294.9 112.75,289.75 117.8,285 C122.85,280.25 127.91,275.97 132.96,271.6 C138.01,267.23 143.07,262.9 148.12,258.8 C153.17,254.7 158.23,250.8 163.28,247 C168.33,243.2 173.39,239.67 178.44,236 C183.49,232.33 188.55,228.67 193.6,225 C198.65,221.33 206.23,215.83 208.76,214" stroke="#9b45f5"/>
<path d="M42,384.2 L43.5,381.57 L40.5,381.57 Z" fill="#fff" stroke="#9b45f5" stroke-width="0.5"/>
<path d="M57.16,357.1 L58.66,354.48 L55.66,354.48 Z" fill="#fff" stroke="#9b45f5" stroke-width="0.5"/>
<path d="M72.32,335.7 L73.82,333.07 L70.82,333.07 Z" fill="#fff" stroke="#9b45f5" stroke-width="0.5"/>
<path d="M87.48,317.7 L88.98,315.07 L85.98,315.07 Z" fill="#fff" stroke="#9b45f5" stroke-width="0.5"/>
<path d="M102.64,301.6 L104.14,298.98 L101.14,298.98 Z" fill="#fff" stroke="#9b45f5" stroke-width="0.5"/>
<path d="M117.8,286.5 L119.3,283.88 L116.3,283.88 Z" fill="#fff" stroke="#9b45f5" stroke-width="0.5"/>
<path d="M132.96,273.1 L134.46,270.48 L131.46,270.48 Z" fill="#fff" stroke="#9b45f5" stroke-width="0.5"/>
<path d="M148.12,260.3 L149.62,257.68 L146.62,257.68 Z" fill="#fff" stroke="#9b45f5" stroke-width="0.5"/>
<path d="M163.28,248.5 L164.78,245.88 L161.78,245.88 Z" fill="#fff" stroke="#9b45f5" stroke-width="0.5"/>
<path d="M178.44,237.5 L179.94,234.88 L176.94,234.88 Z" fill="#fff" stroke="#9b45f5" stroke-width="0.5"/>
<path d="M193.6,226.5 L195.1,223.88 L192.1,223.88 Z" fill="#fff" stroke="#9b45f5" stroke-width="0.5"/>
<path d="M208.76,215.5 L210.26,212.88 L207.26,212.88 Z" fill="#fff" stroke="#9b45f5" stroke-width="0.5"/>
<path d="M42,386.4 C44.53,379.37 52.11,356.12 57.16,344.2 C62.21,332.28 67.27,323 72.32,314.9 C77.37,306.8 82.43,301.27 87.48,295.6 C92.53,289.93 97.59,285.22 102.64,280.9 C107.69,276.58 112.75,273.05 117.8,269.7 C122.85,266.35 127.91,263.75 132.96,260.8 C138.01,257.85 143.07,254.63 148.12,252 C153.17,249.37 158.23,247.33 163.28,245 C168.33,242.67 173.39,240.17 178.44,238 C183.49,235.83 188.55,234 193.6,232 C198.65,230 206.23,227 208.76,226" stroke="#1e1eff"/>
<path d="M42,384.6 L43.8,387.75 L40.2,387.75 Z" fill="#1e1eff"/>
<path d="M57.16,342.4 L58.96,345.55 L55.36,345.55 Z" fill="#1e1eff"/>
<path d="M72.32,313.1 L74.12,316.25 L70.52,316.25 Z" fill="#1e1eff"/>
<path d="M87.48,293.8 L89.28,296.95 L85.68,296.95 Z" fill="#1e1eff"/>
<path d="M102.64,279.1 L104.44,282.25 L100.84,282.25 Z" fill="#1e1eff"/>
<path d="M117.8,267.9 L119.6,271.05 L116,271.05 Z" fill="#1e1eff"/>
<path d="M132.96,259 L134.76,262.15 L131.16,262.15 Z" fill="#1e1eff"/>
<path d="M148.12,250.2 L149.92,253.35 L146.32,253.35 Z" fill="#1e1eff"/>
<path d="M163.28,243.2 L165.08,246.35 L161.48,246.35 Z" fill="#1e1eff"/>
<path d="M178.44,236.2 L180.24,239.35 L176.64,239.35 Z" fill="#1e1eff"/>
<path d="M193.6,230.2 L195.4,233.35 L191.8,233.35 Z" fill="#1e1eff"/>
<path d="M208.76,224.2 L210.56,227.35 L206.96,227.35 Z" fill="#1e1eff"/>
<path d="M42,400.8 C44.53,395.95 52.11,379.57 57.16,371.7 C62.21,363.83 67.27,359.03 72.32,353.6 C77.37,348.17 82.43,343.52 87.48,339.1 C92.53,334.68 97.59,330.98 102.64,327.1 C107.69,323.22 112.75,319.38 117.8,315.8 C122.85,312.22 127.91,308.87 132.96,305.6 C138.01,302.33 143.07,299.25 148.12,296.2 C153.17,293.15 158.23,290.35 163.28,287.3 C168.33,284.25 173.39,281.42 178.44,277.9 C183.49,274.38 188.55,269.85 193.6,266.2 C198.65,262.55 206.23,257.7 208.76,256" stroke="#7d7d1e"/>
<circle cx="42" cy="400.8" r="1.45" fill="#7d7d1e"/>
<circle cx="57.16" cy="371.7" r="1.45" fill="#7d7d1e"/>
<circle cx="72.32" cy="353.6" r="1.45" fill="#7d7d1e"/>
<circle cx="87.48" cy="339.1" r="1.45" fill="#7d7d1e"/>
<circle cx="102.64" cy="327.1" r="1.45" fill="#7d7d1e"/>
<circle cx="117.8" cy="315.8" r="1.45" fill="#7d7d1e"/>
<circle cx="132.96" cy="305.6" r="1.45" fill="#7d7d1e"/>
<circle cx="148.12" cy="296.2" r="1.45" fill="#7d7d1e"/>
<circle cx="163.28" cy="287.3" r="1.45" fill="#7d7d1e"/>
<circle cx="178.44" cy="277.9" r="1.45" fill="#7d7d1e"/>
<circle cx="193.6" cy="266.2" r="1.45" fill="#7d7d1e"/>
<circle cx="208.76" cy="256" r="1.45" fill="#7d7d1e"/>
<path d="M42,333.5 C49.58,336.2 72.32,346.78 87.48,349.7 C102.64,352.62 117.8,353.37 132.96,351 C148.12,348.63 163.28,339.97 178.44,335.5 C193.6,331.03 216.34,326.08 223.92,324.2" stroke="#1a1a1a" stroke-width="0.9"/>
<circle cx="87.48" cy="349.7" r="1.38" fill="#000"/>
<circle cx="132.96" cy="351" r="1.38" fill="#000"/>
<circle cx="178.44" cy="335.5" r="1.38" fill="#000"/>
</g>
<g clip-path="url(#cr1)" fill="none" stroke-width="1.1" stroke-linejoin="round">
<path d="M310.22,418.7 C312.75,415.17 320.33,404.18 325.39,397.5 C330.45,390.82 335.5,384.25 340.56,378.6 C345.62,372.95 350.67,369.25 355.73,363.6 C360.79,357.95 365.84,349.5 370.9,344.7 C375.96,339.9 383.54,336.45 386.07,334.8" stroke="#ee4eee"/>
<path d="M310.22,420.3 L311.82,417.5 L308.62,417.5 Z" fill="#f0a0f0" stroke="#ee4eee" stroke-width="0.5"/>
<path d="M325.39,399.1 L326.99,396.3 L323.79,396.3 Z" fill="#f0a0f0" stroke="#ee4eee" stroke-width="0.5"/>
<path d="M340.56,380.2 L342.16,377.4 L338.96,377.4 Z" fill="#f0a0f0" stroke="#ee4eee" stroke-width="0.5"/>
<path d="M355.73,365.2 L357.33,362.4 L354.13,362.4 Z" fill="#f0a0f0" stroke="#ee4eee" stroke-width="0.5"/>
<path d="M370.9,346.3 L372.5,343.5 L369.3,343.5 Z" fill="#f0a0f0" stroke="#ee4eee" stroke-width="0.5"/>
<path d="M386.07,336.4 L387.67,333.6 L384.47,333.6 Z" fill="#f0a0f0" stroke="#ee4eee" stroke-width="0.5"/>
<path d="M219.2,412.2 C221.73,408.1 229.31,394.92 234.37,387.6 C239.43,380.28 244.48,373.97 249.54,368.3 C254.6,362.63 259.65,357.95 264.71,353.6 C269.77,349.25 274.82,345.72 279.88,342.2 C284.94,338.68 289.99,335.17 295.05,332.5" stroke="#ee4eee"/>
<path d="M219.2,413.8 L220.8,411 L217.6,411 Z" fill="#f0a0f0" stroke="#ee4eee" stroke-width="0.5"/>
<path d="M234.37,389.2 L235.97,386.4 L232.77,386.4 Z" fill="#f0a0f0" stroke="#ee4eee" stroke-width="0.5"/>
<path d="M249.54,369.9 L251.14,367.1 L247.94,367.1 Z" fill="#f0a0f0" stroke="#ee4eee" stroke-width="0.5"/>
<path d="M264.71,355.2 L266.31,352.4 L263.11,352.4 Z" fill="#f0a0f0" stroke="#ee4eee" stroke-width="0.5"/>
<path d="M279.88,343.8 L281.48,341 L278.28,341 Z" fill="#f0a0f0" stroke="#ee4eee" stroke-width="0.5"/>
<path d="M295.05,334.1 L296.65,331.3 L293.45,331.3 Z" fill="#f0a0f0" stroke="#ee4eee" stroke-width="0.5"/>
<path d="M219.2,405.7 C221.73,401.42 229.31,387.53 234.37,380 C239.43,372.47 244.48,366.22 249.54,360.5 C254.6,354.78 259.65,350.07 264.71,345.7 C269.77,341.33 274.82,337.78 279.88,334.3 C284.94,330.82 289.99,327.77 295.05,324.8 C300.11,321.83 305.16,319.25 310.22,316.5 C315.28,313.75 320.33,311.02 325.39,308.3 C330.45,305.58 335.5,302.87 340.56,300.2 C345.62,297.53 350.67,294.98 355.73,292.3 C360.79,289.62 365.84,286.72 370.9,284.1 C375.96,281.48 383.54,277.85 386.07,276.6" stroke="#55f8f8"/>
<circle cx="219.2" cy="405.7" r="1.45" fill="#55f8f8"/>
<circle cx="234.37" cy="380" r="1.45" fill="#55f8f8"/>
<circle cx="249.54" cy="360.5" r="1.45" fill="#55f8f8"/>
<circle cx="264.71" cy="345.7" r="1.45" fill="#55f8f8"/>
<circle cx="279.88" cy="334.3" r="1.45" fill="#55f8f8"/>
<circle cx="295.05" cy="324.8" r="1.45" fill="#55f8f8"/>
<circle cx="310.22" cy="316.5" r="1.45" fill="#55f8f8"/>
<circle cx="325.39" cy="308.3" r="1.45" fill="#55f8f8"/>
<circle cx="340.56" cy="300.2" r="1.45" fill="#55f8f8"/>
<circle cx="355.73" cy="292.3" r="1.45" fill="#55f8f8"/>
<circle cx="370.9" cy="284.1" r="1.45" fill="#55f8f8"/>
<circle cx="386.07" cy="276.6" r="1.45" fill="#55f8f8"/>
<path d="M295.05,332.5 C300.11,329.83 305.16,328.68 310.22,326.2 C315.28,323.72 320.33,320.03 325.39,317.6 C330.45,315.17 335.5,314.07 340.56,311.6 C345.62,309.13 350.67,305.52 355.73,302.8 C360.79,300.08 365.84,297.67 370.9,295.3 C375.96,292.93 383.54,289.72 386.07,288.6" stroke="#e2483f"/>
<path d="M310.22,324.6 L311.82,327.4 L308.62,327.4 Z" fill="#e37d78" stroke="#e2483f" stroke-width="0.5"/>
<path d="M325.39,316 L326.99,318.8 L323.79,318.8 Z" fill="#e37d78" stroke="#e2483f" stroke-width="0.5"/>
<path d="M340.56,310 L342.16,312.8 L338.96,312.8 Z" fill="#e37d78" stroke="#e2483f" stroke-width="0.5"/>
<path d="M355.73,301.2 L357.33,304 L354.13,304 Z" fill="#e37d78" stroke="#e2483f" stroke-width="0.5"/>
<path d="M370.9,293.7 L372.5,296.5 L369.3,296.5 Z" fill="#e37d78" stroke="#e2483f" stroke-width="0.5"/>
<path d="M386.07,287 L387.67,289.8 L384.47,289.8 Z" fill="#e37d78" stroke="#e2483f" stroke-width="0.5"/>
<path d="M219.2,409.6 C221.73,404.45 229.31,387.38 234.37,378.7 C239.43,370.02 244.48,363.92 249.54,357.5 C254.6,351.08 259.65,345.45 264.71,340.2 C269.77,334.95 274.82,330.43 279.88,326 C284.94,321.57 289.99,317.4 295.05,313.6 C300.11,309.8 305.16,306.58 310.22,303.2 C315.28,299.82 320.33,296.58 325.39,293.3 C330.45,290.02 335.5,286.67 340.56,283.5 C345.62,280.33 350.67,277.15 355.73,274.3 C360.79,271.45 365.84,268.93 370.9,266.4 C375.96,263.87 383.54,260.32 386.07,259.1" stroke="#2cf02c"/>
<circle cx="219.2" cy="409.6" r="1.45" fill="#2cf02c"/>
<circle cx="234.37" cy="378.7" r="1.45" fill="#2cf02c"/>
<circle cx="249.54" cy="357.5" r="1.45" fill="#2cf02c"/>
<circle cx="264.71" cy="340.2" r="1.45" fill="#2cf02c"/>
<circle cx="279.88" cy="326" r="1.45" fill="#2cf02c"/>
<circle cx="295.05" cy="313.6" r="1.45" fill="#2cf02c"/>
<circle cx="310.22" cy="303.2" r="1.45" fill="#2cf02c"/>
<circle cx="325.39" cy="293.3" r="1.45" fill="#2cf02c"/>
<circle cx="340.56" cy="283.5" r="1.45" fill="#2cf02c"/>
<circle cx="355.73" cy="274.3" r="1.45" fill="#2cf02c"/>
<circle cx="370.9" cy="266.4" r="1.45" fill="#2cf02c"/>
<circle cx="386.07" cy="259.1" r="1.45" fill="#2cf02c"/>
<path d="M219.2,383.1 C221.73,378.93 229.31,366.23 234.37,358.1 C239.43,349.97 244.48,341.17 249.54,334.3 C254.6,327.43 259.65,322.42 264.71,316.9 C269.77,311.38 274.82,306.35 279.88,301.2 C284.94,296.05 289.99,290.75 295.05,286 C300.11,281.25 305.16,277.12 310.22,272.7 C315.28,268.28 320.33,263.92 325.39,259.5 C330.45,255.08 335.5,250.62 340.56,246.2 C345.62,241.78 350.67,237.37 355.73,233 C360.79,228.63 365.84,224.33 370.9,220 C375.96,215.67 383.54,209.17 386.07,207" stroke="#9b45f5"/>
<path d="M219.2,384.6 L220.7,381.98 L217.7,381.98 Z" fill="#fff" stroke="#9b45f5" stroke-width="0.5"/>
<path d="M234.37,359.6 L235.87,356.98 L232.87,356.98 Z" fill="#fff" stroke="#9b45f5" stroke-width="0.5"/>
<path d="M249.54,335.8 L251.04,333.18 L248.04,333.18 Z" fill="#fff" stroke="#9b45f5" stroke-width="0.5"/>
<path d="M264.71,318.4 L266.21,315.77 L263.21,315.77 Z" fill="#fff" stroke="#9b45f5" stroke-width="0.5"/>
<path d="M279.88,302.7 L281.38,300.07 L278.38,300.07 Z" fill="#fff" stroke="#9b45f5" stroke-width="0.5"/>
<path d="M295.05,287.5 L296.55,284.88 L293.55,284.88 Z" fill="#fff" stroke="#9b45f5" stroke-width="0.5"/>
<path d="M310.22,274.2 L311.72,271.57 L308.72,271.57 Z" fill="#fff" stroke="#9b45f5" stroke-width="0.5"/>
<path d="M325.39,261 L326.89,258.38 L323.89,258.38 Z" fill="#fff" stroke="#9b45f5" stroke-width="0.5"/>
<path d="M340.56,247.7 L342.06,245.07 L339.06,245.07 Z" fill="#fff" stroke="#9b45f5" stroke-width="0.5"/>
<path d="M355.73,234.5 L357.23,231.88 L354.23,231.88 Z" fill="#fff" stroke="#9b45f5" stroke-width="0.5"/>
<path d="M370.9,221.5 L372.4,218.88 L369.4,218.88 Z" fill="#fff" stroke="#9b45f5" stroke-width="0.5"/>
<path d="M386.07,208.5 L387.57,205.88 L384.57,205.88 Z" fill="#fff" stroke="#9b45f5" stroke-width="0.5"/>
<path d="M219.2,397.2 C221.73,391.15 229.31,371.52 234.37,360.9 C239.43,350.28 244.48,341.28 249.54,333.5 C254.6,325.72 259.65,319.98 264.71,314.2 C269.77,308.42 274.82,303.27 279.88,298.8 C284.94,294.33 289.99,291 295.05,287.4 C300.11,283.8 305.16,280.37 310.22,277.2 C315.28,274.03 320.33,271.08 325.39,268.4 C330.45,265.72 335.5,263.4 340.56,261.1 C345.62,258.8 350.67,256.12 355.73,254.6 C360.79,253.08 365.84,253.15 370.9,252 C375.96,250.85 383.54,248.42 386.07,247.7" stroke="#1e1eff"/>
<path d="M219.2,395.4 L221,398.55 L217.4,398.55 Z" fill="#1e1eff"/>
<path d="M234.37,359.1 L236.17,362.25 L232.57,362.25 Z" fill="#1e1eff"/>
<path d="M249.54,331.7 L251.34,334.85 L247.74,334.85 Z" fill="#1e1eff"/>
<path d="M264.71,312.4 L266.51,315.55 L262.91,315.55 Z" fill="#1e1eff"/>
<path d="M279.88,297 L281.68,300.15 L278.08,300.15 Z" fill="#1e1eff"/>
<path d="M295.05,285.6 L296.85,288.75 L293.25,288.75 Z" fill="#1e1eff"/>
<path d="M310.22,275.4 L312.02,278.55 L308.42,278.55 Z" fill="#1e1eff"/>
<path d="M325.39,266.6 L327.19,269.75 L323.59,269.75 Z" fill="#1e1eff"/>
<path d="M340.56,259.3 L342.36,262.45 L338.76,262.45 Z" fill="#1e1eff"/>
<path d="M355.73,252.8 L357.53,255.95 L353.93,255.95 Z" fill="#1e1eff"/>
<path d="M370.9,250.2 L372.7,253.35 L369.1,253.35 Z" fill="#1e1eff"/>
<path d="M386.07,245.9 L387.87,249.05 L384.27,249.05 Z" fill="#1e1eff"/>
<path d="M219.2,408.2 C221.73,403.35 229.31,387.45 234.37,379.1 C239.43,370.75 244.48,364.25 249.54,358.1 C254.6,351.95 259.65,346.77 264.71,342.2 C269.77,337.63 274.82,334.38 279.88,330.7 C284.94,327.02 289.99,323.35 295.05,320.1 C300.11,316.85 305.16,314.02 310.22,311.2 C315.28,308.38 320.33,305.92 325.39,303.2 C330.45,300.48 335.5,297.53 340.56,294.9 C345.62,292.27 350.67,289.95 355.73,287.4 C360.79,284.85 365.84,282.18 370.9,279.6 C375.96,277.02 383.54,273.18 386.07,271.9" stroke="#7d7d1e"/>
<circle cx="219.2" cy="408.2" r="1.45" fill="#7d7d1e"/>
<circle cx="234.37" cy="379.1" r="1.45" fill="#7d7d1e"/>
<circle cx="249.54" cy="358.1" r="1.45" fill="#7d7d1e"/>
<circle cx="264.71" cy="342.2" r="1.45" fill="#7d7d1e"/>
<circle cx="279.88" cy="330.7" r="1.45" fill="#7d7d1e"/>
<circle cx="295.05" cy="320.1" r="1.45" fill="#7d7d1e"/>
<circle cx="310.22" cy="311.2" r="1.45" fill="#7d7d1e"/>
<circle cx="325.39" cy="303.2" r="1.45" fill="#7d7d1e"/>
<circle cx="340.56" cy="294.9" r="1.45" fill="#7d7d1e"/>
<circle cx="355.73" cy="287.4" r="1.45" fill="#7d7d1e"/>
<circle cx="370.9" cy="279.6" r="1.45" fill="#7d7d1e"/>
<circle cx="386.07" cy="271.9" r="1.45" fill="#7d7d1e"/>
<path d="M219.2,324.2 C226.78,324.62 249.54,325.98 264.71,326.7 C279.88,327.42 295.05,328.03 310.22,328.5 C325.39,328.97 340.56,329.3 355.73,329.5 C370.9,329.7 393.66,329.67 401.24,329.7" stroke="#1a1a1a" stroke-width="0.9"/>
<circle cx="219.2" cy="324.2" r="1.38" fill="#000"/>
<circle cx="264.71" cy="326.7" r="1.38" fill="#000"/>
<circle cx="310.22" cy="328.5" r="1.38" fill="#000"/>
<circle cx="355.73" cy="329.5" r="1.38" fill="#000"/>
</g>
<g stroke="#1a1a1a" stroke-width="1.2" fill="none"><line x1="42" y1="233.8" x2="42" y2="424.5"/><line x1="401.2" y1="233.8" x2="401.2" y2="424.5"/><line x1="42" y1="234.4" x2="208.6" y2="234.4"/><line x1="218.6" y1="234.4" x2="401.2" y2="234.4"/><line x1="42" y1="423.9" x2="208.6" y2="423.9"/><line x1="218.6" y1="423.9" x2="401.2" y2="423.9"/><line x1="36.3" y1="423.9" x2="42" y2="423.9"/><line x1="36.3" y1="396.83" x2="42" y2="396.83"/><line x1="36.3" y1="369.76" x2="42" y2="369.76"/><line x1="36.3" y1="342.69" x2="42" y2="342.69"/><line x1="36.3" y1="315.61" x2="42" y2="315.61"/><line x1="36.3" y1="288.54" x2="42" y2="288.54"/><line x1="36.3" y1="261.47" x2="42" y2="261.47"/><line x1="36.3" y1="234.4" x2="42" y2="234.4"/><line x1="39" y1="410.36" x2="42" y2="410.36"/><line x1="39" y1="383.29" x2="42" y2="383.29"/><line x1="39" y1="356.22" x2="42" y2="356.22"/><line x1="39" y1="329.15" x2="42" y2="329.15"/><line x1="39" y1="302.08" x2="42" y2="302.08"/><line x1="39" y1="275.01" x2="42" y2="275.01"/><line x1="39" y1="247.94" x2="42" y2="247.94"/><line x1="42" y1="423.9" x2="42" y2="429.4"/><line x1="57.16" y1="423.9" x2="57.16" y2="426.9"/><line x1="72.32" y1="423.9" x2="72.32" y2="429.4"/><line x1="87.48" y1="423.9" x2="87.48" y2="426.9"/><line x1="102.64" y1="423.9" x2="102.64" y2="429.4"/><line x1="117.8" y1="423.9" x2="117.8" y2="426.9"/><line x1="132.96" y1="423.9" x2="132.96" y2="429.4"/><line x1="148.12" y1="423.9" x2="148.12" y2="426.9"/><line x1="163.28" y1="423.9" x2="163.28" y2="429.4"/><line x1="178.44" y1="423.9" x2="178.44" y2="426.9"/><line x1="193.6" y1="423.9" x2="193.6" y2="429.4"/><line x1="219.2" y1="423.9" x2="219.2" y2="429.4"/><line x1="234.37" y1="423.9" x2="234.37" y2="426.9"/><line x1="249.54" y1="423.9" x2="249.54" y2="429.4"/><line x1="264.71" y1="423.9" x2="264.71" y2="426.9"/><line x1="279.88" y1="423.9" x2="279.88" y2="429.4"/><line x1="295.05" y1="423.9" x2="295.05" y2="426.9"/><line x1="310.22" y1="423.9" x2="310.22" y2="429.4"/><line x1="325.39" y1="423.9" x2="325.39" y2="426.9"/><line x1="340.56" y1="423.9" x2="340.56" y2="429.4"/><line x1="355.73" y1="423.9" x2="355.73" y2="426.9"/><line x1="370.9" y1="423.9" x2="370.9" y2="429.4"/><line x1="386.07" y1="423.9" x2="386.07" y2="426.9"/><line x1="401.24" y1="423.9" x2="401.24" y2="429.4"/></g>
<g stroke="#111" stroke-width="1.1"><line x1="208.1" y1="239.7" x2="214.1" y2="229.1"/><line x1="214.2" y1="239.7" x2="220.2" y2="229.1"/><line x1="208.1" y1="429.2" x2="214.1" y2="418.6"/><line x1="214.2" y1="429.2" x2="220.2" y2="418.6"/></g>
<g font-family="Liberation Serif, serif"><rect x="43.5" y="235.5" width="273" height="24.5" fill="#fff" stroke="#8c8c8c" stroke-width="1"/><line x1="44.1" y1="242.1" x2="65.7" y2="242.1" stroke="#444" stroke-width="1"/><circle cx="54.7" cy="242.1" r="1.45" fill="#000"/><text x="68.5" y="245.4" font-size="9.3" fill="#000">ECMWF</text><line x1="104.4" y1="242.1" x2="126" y2="242.1" stroke="#1e1eff" stroke-width="1"/><path d="M115.2,240.3 L117,243.45 L113.4,243.45 Z" fill="#1e1eff"/><text x="128.3" y="245.4" font-size="9.3" fill="#000">ConvLSTM</text><line x1="175.4" y1="242.1" x2="197" y2="242.1" stroke="#2cf02c" stroke-width="1"/><circle cx="186.2" cy="242.1" r="1.45" fill="#2cf02c"/><text x="199.5" y="245.4" font-size="9.3" fill="#000">STDGN</text><line x1="250.6" y1="242.1" x2="272.2" y2="242.1" stroke="#55f8f8" stroke-width="1"/><circle cx="261.4" cy="242.1" r="1.45" fill="#55f8f8"/><text x="274.4" y="245.4" font-size="9.3" fill="#000">TAU</text><line x1="44.1" y1="253.6" x2="65.7" y2="253.6" stroke="#a6ad62" stroke-width="1"/><circle cx="54.7" cy="253.6" r="1.45" fill="#7d7d1e"/><text x="68.5" y="256.9" font-size="9.3" fill="#000">SimVP</text><line x1="104.4" y1="253.6" x2="126" y2="253.6" stroke="#9b45f5" stroke-width="1"/><path d="M115.2,255.1 L116.7,252.47 L113.7,252.47 Z" fill="#fff" stroke="#9b45f5" stroke-width="0.5"/><text x="128.3" y="256.9" font-size="9.3" fill="#000">E3DLSTM</text><line x1="175.4" y1="253.6" x2="197" y2="253.6" stroke="#e2483f" stroke-width="1"/><path d="M186.2,252 L187.8,254.8 L184.6,254.8 Z" fill="#e37d78" stroke="#e2483f" stroke-width="0.5"/><text x="199.5" y="256.9" font-size="9.3" fill="#000">MFWPN-12</text><line x1="250.6" y1="253.6" x2="272.2" y2="253.6" stroke="#ee4eee" stroke-width="1"/><path d="M261.4,255.2 L263,252.4 L259.8,252.4 Z" fill="#f0a0f0" stroke="#ee4eee" stroke-width="0.5"/><text x="274.4" y="256.9" font-size="9.3" fill="#000">MFWPN-6</text></g>
<g font-family="Liberation Serif, serif" font-size="9.2" fill="#000"><text x="32.4" y="426.4" text-anchor="end">0.2</text><text x="32.4" y="399.33" text-anchor="end">0.4</text><text x="32.4" y="372.26" text-anchor="end">0.6</text><text x="32.4" y="345.19" text-anchor="end">0.8</text><text x="32.4" y="318.11" text-anchor="end">1.0</text><text x="32.4" y="291.04" text-anchor="end">1.2</text><text x="32.4" y="263.97" text-anchor="end">1.4</text><text x="32.4" y="236.9" text-anchor="end">1.6</text><text x="42" y="441.2" text-anchor="middle">0</text><text x="72.32" y="441.2" text-anchor="middle">2</text><text x="102.64" y="441.2" text-anchor="middle">4</text><text x="132.96" y="441.2" text-anchor="middle">6</text><text x="163.28" y="441.2" text-anchor="middle">8</text><text x="193.6" y="441.2" text-anchor="middle">10</text><text x="219.2" y="441.2" text-anchor="middle">12</text><text x="249.54" y="441.2" text-anchor="middle">14</text><text x="279.88" y="441.2" text-anchor="middle">16</text><text x="310.22" y="441.2" text-anchor="middle">18</text><text x="340.56" y="441.2" text-anchor="middle">20</text><text x="370.9" y="441.2" text-anchor="middle">22</text><text x="401.24" y="441.2" text-anchor="middle">24</text></g>
<text font-family="Liberation Serif, serif" font-size="11.2" fill="#000" x="221.75" y="454.2" text-anchor="middle">Time[Hour]</text>
<text font-family="Liberation Serif, serif" font-size="11.2" fill="#111" text-anchor="middle" transform="translate(14.6,329) rotate(-90)">Wind Speed MAE[m/s]</text>
<text font-family="Liberation Serif, serif" font-size="12.7" font-weight="bold" fill="#000" x="1.2" y="242.9">b)</text>
<defs><clipPath id="cl2"><rect x="42" y="461.5" width="169.5" height="189.2"/></clipPath><clipPath id="cr2"><rect x="217.1" y="461.5" width="184.1" height="189.2"/></clipPath></defs>
<g clip-path="url(#cl2)" fill="none" stroke-width="1.1" stroke-linejoin="round">
<path d="M132.96,466.8 C135.49,468.27 143.07,471.93 148.12,475.6 C153.17,479.27 158.23,484.27 163.28,488.8 C168.33,493.33 173.39,496.57 178.44,502.8 C183.49,509.03 188.55,520.33 193.6,526.2 C198.65,532.07 206.23,536.03 208.76,538" stroke="#ee4eee"/>
<path d="M132.96,468.4 L134.56,465.6 L131.36,465.6 Z" fill="#f0a0f0" stroke="#ee4eee" stroke-width="0.5"/>
<path d="M148.12,477.2 L149.72,474.4 L146.52,474.4 Z" fill="#f0a0f0" stroke="#ee4eee" stroke-width="0.5"/>
<path d="M163.28,490.4 L164.88,487.6 L161.68,487.6 Z" fill="#f0a0f0" stroke="#ee4eee" stroke-width="0.5"/>
<path d="M178.44,504.4 L180.04,501.6 L176.84,501.6 Z" fill="#f0a0f0" stroke="#ee4eee" stroke-width="0.5"/>
<path d="M193.6,527.8 L195.2,525 L192,525 Z" fill="#f0a0f0" stroke="#ee4eee" stroke-width="0.5"/>
<path d="M208.76,539.6 L210.36,536.8 L207.16,536.8 Z" fill="#f0a0f0" stroke="#ee4eee" stroke-width="0.5"/>
<path d="M42,472.3 C44.53,474.17 52.11,480.07 57.16,483.5 C62.21,486.93 67.27,489.95 72.32,492.9 C77.37,495.85 82.43,498.6 87.48,501.2 C92.53,503.8 97.59,505.65 102.64,508.5 C107.69,511.35 112.75,515.17 117.8,518.3" stroke="#ee4eee"/>
<path d="M42,473.9 L43.6,471.1 L40.4,471.1 Z" fill="#f0a0f0" stroke="#ee4eee" stroke-width="0.5"/>
<path d="M57.16,485.1 L58.76,482.3 L55.56,482.3 Z" fill="#f0a0f0" stroke="#ee4eee" stroke-width="0.5"/>
<path d="M72.32,494.5 L73.92,491.7 L70.72,491.7 Z" fill="#f0a0f0" stroke="#ee4eee" stroke-width="0.5"/>
<path d="M87.48,502.8 L89.08,500 L85.88,500 Z" fill="#f0a0f0" stroke="#ee4eee" stroke-width="0.5"/>
<path d="M102.64,510.1 L104.24,507.3 L101.04,507.3 Z" fill="#f0a0f0" stroke="#ee4eee" stroke-width="0.5"/>
<path d="M117.8,519.9 L119.4,517.1 L116.2,517.1 Z" fill="#f0a0f0" stroke="#ee4eee" stroke-width="0.5"/>
<path d="M42,473 C44.53,475.08 52.11,481.42 57.16,485.5 C62.21,489.58 67.27,493.48 72.32,497.5 C77.37,501.52 82.43,505.93 87.48,509.6 C92.53,513.27 97.59,516.22 102.64,519.5 C107.69,522.78 112.75,525.73 117.8,529.3 C122.85,532.87 127.91,536.78 132.96,540.9 C138.01,545.02 143.07,549.07 148.12,554 C153.17,558.93 158.23,564.75 163.28,570.5 C168.33,576.25 173.39,581.2 178.44,588.5 C183.49,595.8 188.55,607.72 193.6,614.3 C198.65,620.88 206.23,625.72 208.76,628" stroke="#55f8f8"/>
<circle cx="42" cy="473" r="1.45" fill="#55f8f8"/>
<circle cx="57.16" cy="485.5" r="1.45" fill="#55f8f8"/>
<circle cx="72.32" cy="497.5" r="1.45" fill="#55f8f8"/>
<circle cx="87.48" cy="509.6" r="1.45" fill="#55f8f8"/>
<circle cx="102.64" cy="519.5" r="1.45" fill="#55f8f8"/>
<circle cx="117.8" cy="529.3" r="1.45" fill="#55f8f8"/>
<circle cx="132.96" cy="540.9" r="1.45" fill="#55f8f8"/>
<circle cx="148.12" cy="554" r="1.45" fill="#55f8f8"/>
<circle cx="163.28" cy="570.5" r="1.45" fill="#55f8f8"/>
<circle cx="178.44" cy="588.5" r="1.45" fill="#55f8f8"/>
<circle cx="193.6" cy="614.3" r="1.45" fill="#55f8f8"/>
<circle cx="208.76" cy="628" r="1.45" fill="#55f8f8"/>
<path d="M117.8,518.3 C122.85,521.43 127.91,523.77 132.96,527.3 C138.01,530.83 143.07,535.17 148.12,539.5 C153.17,543.83 158.23,548.27 163.28,553.3 C168.33,558.33 173.39,563.07 178.44,569.7 C183.49,576.33 188.55,587.08 193.6,593.1 C198.65,599.12 206.23,603.68 208.76,605.8" stroke="#e2483f"/>
<path d="M132.96,525.7 L134.56,528.5 L131.36,528.5 Z" fill="#e37d78" stroke="#e2483f" stroke-width="0.5"/>
<path d="M148.12,537.9 L149.72,540.7 L146.52,540.7 Z" fill="#e37d78" stroke="#e2483f" stroke-width="0.5"/>
<path d="M163.28,551.7 L164.88,554.5 L161.68,554.5 Z" fill="#e37d78" stroke="#e2483f" stroke-width="0.5"/>
<path d="M178.44,568.1 L180.04,570.9 L176.84,570.9 Z" fill="#e37d78" stroke="#e2483f" stroke-width="0.5"/>
<path d="M193.6,591.5 L195.2,594.3 L192,594.3 Z" fill="#e37d78" stroke="#e2483f" stroke-width="0.5"/>
<path d="M208.76,604.2 L210.36,607 L207.16,607 Z" fill="#e37d78" stroke="#e2483f" stroke-width="0.5"/>
<path d="M42,473.1 C44.53,475.35 52.11,482.02 57.16,486.6 C62.21,491.18 67.27,496.37 72.32,500.6 C77.37,504.83 82.43,508.37 87.48,512 C92.53,515.63 97.59,518.8 102.64,522.4 C107.69,526 112.75,529.7 117.8,533.6 C122.85,537.5 127.91,541.48 132.96,545.8 C138.01,550.12 143.07,554.3 148.12,559.5 C153.17,564.7 158.23,570.68 163.28,577 C168.33,583.32 173.39,589.07 178.44,597.4 C183.49,605.73 188.55,616.57 193.6,627 C198.65,637.43 206.23,654.5 208.76,660" stroke="#2cf02c"/>
<circle cx="42" cy="473.1" r="1.45" fill="#2cf02c"/>
<circle cx="57.16" cy="486.6" r="1.45" fill="#2cf02c"/>
<circle cx="72.32" cy="500.6" r="1.45" fill="#2cf02c"/>
<circle cx="87.48" cy="512" r="1.45" fill="#2cf02c"/>
<circle cx="102.64" cy="522.4" r="1.45" fill="#2cf02c"/>
<circle cx="117.8" cy="533.6" r="1.45" fill="#2cf02c"/>
<circle cx="132.96" cy="545.8" r="1.45" fill="#2cf02c"/>
<circle cx="148.12" cy="559.5" r="1.45" fill="#2cf02c"/>
<circle cx="163.28" cy="577" r="1.45" fill="#2cf02c"/>
<circle cx="178.44" cy="597.4" r="1.45" fill="#2cf02c"/>
<circle cx="193.6" cy="627" r="1.45" fill="#2cf02c"/>
<circle cx="208.76" cy="660" r="1.45" fill="#2cf02c"/>
<path d="M42,481 C44.53,483.87 52.11,492.45 57.16,498.2 C62.21,503.95 67.27,509.87 72.32,515.5 C77.37,521.13 82.43,526.48 87.48,532 C92.53,537.52 97.59,542.85 102.64,548.6 C107.69,554.35 112.75,560.07 117.8,566.5 C122.85,572.93 127.91,580.08 132.96,587.2 C138.01,594.32 143.07,601.07 148.12,609.2 C153.17,617.33 158.23,627.2 163.28,636 C168.33,644.8 173.39,653.33 178.44,662 C183.49,670.67 188.55,679.33 193.6,688 C198.65,696.67 206.23,709.67 208.76,714" stroke="#9b45f5"/>
<path d="M42,482.5 L43.5,479.88 L40.5,479.88 Z" fill="#fff" stroke="#9b45f5" stroke-width="0.5"/>
<path d="M57.16,499.7 L58.66,497.07 L55.66,497.07 Z" fill="#fff" stroke="#9b45f5" stroke-width="0.5"/>
<path d="M72.32,517 L73.82,514.38 L70.82,514.38 Z" fill="#fff" stroke="#9b45f5" stroke-width="0.5"/>
<path d="M87.48,533.5 L88.98,530.88 L85.98,530.88 Z" fill="#fff" stroke="#9b45f5" stroke-width="0.5"/>
<path d="M102.64,550.1 L104.14,547.48 L101.14,547.48 Z" fill="#fff" stroke="#9b45f5" stroke-width="0.5"/>
<path d="M117.8,568 L119.3,565.38 L116.3,565.38 Z" fill="#fff" stroke="#9b45f5" stroke-width="0.5"/>
<path d="M132.96,588.7 L134.46,586.08 L131.46,586.08 Z" fill="#fff" stroke="#9b45f5" stroke-width="0.5"/>
<path d="M148.12,610.7 L149.62,608.08 L146.62,608.08 Z" fill="#fff" stroke="#9b45f5" stroke-width="0.5"/>
<path d="M163.28,637.5 L164.78,634.88 L161.78,634.88 Z" fill="#fff" stroke="#9b45f5" stroke-width="0.5"/>
<path d="M178.44,663.5 L179.94,660.88 L176.94,660.88 Z" fill="#fff" stroke="#9b45f5" stroke-width="0.5"/>
<path d="M193.6,689.5 L195.1,686.88 L192.1,686.88 Z" fill="#fff" stroke="#9b45f5" stroke-width="0.5"/>
<path d="M208.76,715.5 L210.26,712.88 L207.26,712.88 Z" fill="#fff" stroke="#9b45f5" stroke-width="0.5"/>
<path d="M42,478.3 C44.53,483.1 52.11,498.12 57.16,507.1 C62.21,516.08 67.27,524.8 72.32,532.2 C77.37,539.6 82.43,545.93 87.48,551.5 C92.53,557.07 97.59,561.18 102.64,565.6 C107.69,570.02 112.75,573.92 117.8,578 C122.85,582.08 127.91,586.22 132.96,590.1 C138.01,593.98 143.07,597.6 148.12,601.3 C153.17,605 158.23,607.68 163.28,612.3 C168.33,616.92 173.39,622.8 178.44,629 C183.49,635.2 188.55,643 193.6,649.5 C198.65,656 206.23,664.92 208.76,668" stroke="#1e1eff"/>
<path d="M42,476.5 L43.8,479.65 L40.2,479.65 Z" fill="#1e1eff"/>
<path d="M57.16,505.3 L58.96,508.45 L55.36,508.45 Z" fill="#1e1eff"/>
<path d="M72.32,530.4 L74.12,533.55 L70.52,533.55 Z" fill="#1e1eff"/>
<path d="M87.48,549.7 L89.28,552.85 L85.68,552.85 Z" fill="#1e1eff"/>
<path d="M102.64,563.8 L104.44,566.95 L100.84,566.95 Z" fill="#1e1eff"/>
<path d="M117.8,576.2 L119.6,579.35 L116,579.35 Z" fill="#1e1eff"/>
<path d="M132.96,588.3 L134.76,591.45 L131.16,591.45 Z" fill="#1e1eff"/>
<path d="M148.12,599.5 L149.92,602.65 L146.32,602.65 Z" fill="#1e1eff"/>
<path d="M163.28,610.5 L165.08,613.65 L161.48,613.65 Z" fill="#1e1eff"/>
<path d="M178.44,627.2 L180.24,630.35 L176.64,630.35 Z" fill="#1e1eff"/>
<path d="M193.6,647.7 L195.4,650.85 L191.8,650.85 Z" fill="#1e1eff"/>
<path d="M208.76,666.2 L210.56,669.35 L206.96,669.35 Z" fill="#1e1eff"/>
<path d="M42,473.3 C44.53,475.42 52.11,481.78 57.16,486 C62.21,490.22 67.27,494.5 72.32,498.6 C77.37,502.7 82.43,506.73 87.48,510.6 C92.53,514.47 97.59,518.13 102.64,521.8 C107.69,525.47 112.75,528.8 117.8,532.6 C122.85,536.4 127.91,540.18 132.96,544.6 C138.01,549.02 143.07,553.8 148.12,559.1 C153.17,564.4 158.23,570.33 163.28,576.4 C168.33,582.47 173.39,587.87 178.44,595.5 C183.49,603.13 188.55,614.78 193.6,622.2 C198.65,629.62 206.23,637.03 208.76,640" stroke="#7d7d1e"/>
<circle cx="42" cy="473.3" r="1.45" fill="#7d7d1e"/>
<circle cx="57.16" cy="486" r="1.45" fill="#7d7d1e"/>
<circle cx="72.32" cy="498.6" r="1.45" fill="#7d7d1e"/>
<circle cx="87.48" cy="510.6" r="1.45" fill="#7d7d1e"/>
<circle cx="102.64" cy="521.8" r="1.45" fill="#7d7d1e"/>
<circle cx="117.8" cy="532.6" r="1.45" fill="#7d7d1e"/>
<circle cx="132.96" cy="544.6" r="1.45" fill="#7d7d1e"/>
<circle cx="148.12" cy="559.1" r="1.45" fill="#7d7d1e"/>
<circle cx="163.28" cy="576.4" r="1.45" fill="#7d7d1e"/>
<circle cx="178.44" cy="595.5" r="1.45" fill="#7d7d1e"/>
<circle cx="193.6" cy="622.2" r="1.45" fill="#7d7d1e"/>
<circle cx="208.76" cy="640" r="1.45" fill="#7d7d1e"/>
<path d="M42,516.3 C49.58,513.95 72.32,504.55 87.48,502.2 C102.64,499.85 117.8,499.48 132.96,502.2 C148.12,504.92 163.28,514.32 178.44,518.5 C193.6,522.68 216.34,525.83 223.92,527.3" stroke="#1a1a1a" stroke-width="0.9"/>
<circle cx="87.48" cy="502.2" r="1.38" fill="#000"/>
<circle cx="132.96" cy="502.2" r="1.38" fill="#000"/>
<circle cx="178.44" cy="518.5" r="1.38" fill="#000"/>
</g>
<g clip-path="url(#cr2)" fill="none" stroke-width="1.1" stroke-linejoin="round">
<path d="M310.22,466.2 C312.75,467.63 320.33,471.52 325.39,474.8 C330.45,478.08 335.5,482.3 340.56,485.9 C345.62,489.5 350.67,491.45 355.73,496.4 C360.79,501.35 365.84,511.15 370.9,515.6 C375.96,520.05 383.54,521.85 386.07,523.1" stroke="#ee4eee"/>
<path d="M310.22,467.8 L311.82,465 L308.62,465 Z" fill="#f0a0f0" stroke="#ee4eee" stroke-width="0.5"/>
<path d="M325.39,476.4 L326.99,473.6 L323.79,473.6 Z" fill="#f0a0f0" stroke="#ee4eee" stroke-width="0.5"/>
<path d="M340.56,487.5 L342.16,484.7 L338.96,484.7 Z" fill="#f0a0f0" stroke="#ee4eee" stroke-width="0.5"/>
<path d="M355.73,498 L357.33,495.2 L354.13,495.2 Z" fill="#f0a0f0" stroke="#ee4eee" stroke-width="0.5"/>
<path d="M370.9,517.2 L372.5,514.4 L369.3,514.4 Z" fill="#f0a0f0" stroke="#ee4eee" stroke-width="0.5"/>
<path d="M386.07,524.7 L387.67,521.9 L384.47,521.9 Z" fill="#f0a0f0" stroke="#ee4eee" stroke-width="0.5"/>
<path d="M219.2,468.4 C221.73,470.27 229.31,475.73 234.37,479.6 C239.43,483.47 244.48,487.67 249.54,491.6 C254.6,495.53 259.65,499.47 264.71,503.2 C269.77,506.93 274.82,510.4 279.88,514 C284.94,517.6 289.99,521.47 295.05,524.8" stroke="#ee4eee"/>
<path d="M219.2,470 L220.8,467.2 L217.6,467.2 Z" fill="#f0a0f0" stroke="#ee4eee" stroke-width="0.5"/>
<path d="M234.37,481.2 L235.97,478.4 L232.77,478.4 Z" fill="#f0a0f0" stroke="#ee4eee" stroke-width="0.5"/>
<path d="M249.54,493.2 L251.14,490.4 L247.94,490.4 Z" fill="#f0a0f0" stroke="#ee4eee" stroke-width="0.5"/>
<path d="M264.71,504.8 L266.31,502 L263.11,502 Z" fill="#f0a0f0" stroke="#ee4eee" stroke-width="0.5"/>
<path d="M279.88,515.6 L281.48,512.8 L278.28,512.8 Z" fill="#f0a0f0" stroke="#ee4eee" stroke-width="0.5"/>
<path d="M295.05,526.4 L296.65,523.6 L293.45,523.6 Z" fill="#f0a0f0" stroke="#ee4eee" stroke-width="0.5"/>
<path d="M219.2,470 C221.73,472.25 229.31,478.87 234.37,483.5 C239.43,488.13 244.48,493.05 249.54,497.8 C254.6,502.55 259.65,507.6 264.71,512 C269.77,516.4 274.82,520.1 279.88,524.2 C284.94,528.3 289.99,532.57 295.05,536.6 C300.11,540.63 305.16,544.45 310.22,548.4 C315.28,552.35 320.33,556.48 325.39,560.3 C330.45,564.12 335.5,567.55 340.56,571.3 C345.62,575.05 350.67,577.98 355.73,582.8 C360.79,587.62 365.84,596.12 370.9,600.2 C375.96,604.28 383.54,606.12 386.07,607.3" stroke="#55f8f8"/>
<circle cx="219.2" cy="470" r="1.45" fill="#55f8f8"/>
<circle cx="234.37" cy="483.5" r="1.45" fill="#55f8f8"/>
<circle cx="249.54" cy="497.8" r="1.45" fill="#55f8f8"/>
<circle cx="264.71" cy="512" r="1.45" fill="#55f8f8"/>
<circle cx="279.88" cy="524.2" r="1.45" fill="#55f8f8"/>
<circle cx="295.05" cy="536.6" r="1.45" fill="#55f8f8"/>
<circle cx="310.22" cy="548.4" r="1.45" fill="#55f8f8"/>
<circle cx="325.39" cy="560.3" r="1.45" fill="#55f8f8"/>
<circle cx="340.56" cy="571.3" r="1.45" fill="#55f8f8"/>
<circle cx="355.73" cy="582.8" r="1.45" fill="#55f8f8"/>
<circle cx="370.9" cy="600.2" r="1.45" fill="#55f8f8"/>
<circle cx="386.07" cy="607.3" r="1.45" fill="#55f8f8"/>
<path d="M295.05,524.8 C300.11,528.13 305.16,530.75 310.22,534 C315.28,537.25 320.33,541.28 325.39,544.3 C330.45,547.32 335.5,549.27 340.56,552.1 C345.62,554.93 350.67,557.05 355.73,561.3 C360.79,565.55 365.84,573.83 370.9,577.6 C375.96,581.37 383.54,582.85 386.07,583.9" stroke="#e2483f"/>
<path d="M310.22,532.4 L311.82,535.2 L308.62,535.2 Z" fill="#e37d78" stroke="#e2483f" stroke-width="0.5"/>
<path d="M325.39,542.7 L326.99,545.5 L323.79,545.5 Z" fill="#e37d78" stroke="#e2483f" stroke-width="0.5"/>
<path d="M340.56,550.5 L342.16,553.3 L338.96,553.3 Z" fill="#e37d78" stroke="#e2483f" stroke-width="0.5"/>
<path d="M355.73,559.7 L357.33,562.5 L354.13,562.5 Z" fill="#e37d78" stroke="#e2483f" stroke-width="0.5"/>
<path d="M370.9,576 L372.5,578.8 L369.3,578.8 Z" fill="#e37d78" stroke="#e2483f" stroke-width="0.5"/>
<path d="M386.07,582.3 L387.67,585.1 L384.47,585.1 Z" fill="#e37d78" stroke="#e2483f" stroke-width="0.5"/>
<path d="M219.2,470.8 C221.73,473.17 229.31,479.87 234.37,485 C239.43,490.13 244.48,496.28 249.54,501.6 C254.6,506.92 259.65,511.8 264.71,516.9 C269.77,522 274.82,527.22 279.88,532.2 C284.94,537.18 289.99,541.73 295.05,546.8 C300.11,551.87 305.16,557.47 310.22,562.6 C315.28,567.73 320.33,572.6 325.39,577.6 C330.45,582.6 335.5,587.62 340.56,592.6 C345.62,597.58 350.67,601.55 355.73,607.5 C360.79,613.45 365.84,623.72 370.9,628.3 C375.96,632.88 383.54,633.88 386.07,635" stroke="#2cf02c"/>
<circle cx="219.2" cy="470.8" r="1.45" fill="#2cf02c"/>
<circle cx="234.37" cy="485" r="1.45" fill="#2cf02c"/>
<circle cx="249.54" cy="501.6" r="1.45" fill="#2cf02c"/>
<circle cx="264.71" cy="516.9" r="1.45" fill="#2cf02c"/>
<circle cx="279.88" cy="532.2" r="1.45" fill="#2cf02c"/>
<circle cx="295.05" cy="546.8" r="1.45" fill="#2cf02c"/>
<circle cx="310.22" cy="562.6" r="1.45" fill="#2cf02c"/>
<circle cx="325.39" cy="577.6" r="1.45" fill="#2cf02c"/>
<circle cx="340.56" cy="592.6" r="1.45" fill="#2cf02c"/>
<circle cx="355.73" cy="607.5" r="1.45" fill="#2cf02c"/>
<circle cx="370.9" cy="628.3" r="1.45" fill="#2cf02c"/>
<circle cx="386.07" cy="635" r="1.45" fill="#2cf02c"/>
<path d="M219.2,481.5 C221.73,484.55 229.31,493.4 234.37,499.8 C239.43,506.2 244.48,513.03 249.54,519.9 C254.6,526.77 259.65,534.05 264.71,541 C269.77,547.95 274.82,554.5 279.88,561.6 C284.94,568.7 289.99,576.23 295.05,583.6 C300.11,590.97 305.16,598.27 310.22,605.8 C315.28,613.33 320.33,621.1 325.39,628.8 C330.45,636.5 335.5,644.3 340.56,652 C345.62,659.7 350.67,667.33 355.73,675 C360.79,682.67 365.84,690.5 370.9,698 C375.96,705.5 383.54,716.33 386.07,720" stroke="#9b45f5"/>
<path d="M219.2,483 L220.7,480.38 L217.7,480.38 Z" fill="#fff" stroke="#9b45f5" stroke-width="0.5"/>
<path d="M234.37,501.3 L235.87,498.68 L232.87,498.68 Z" fill="#fff" stroke="#9b45f5" stroke-width="0.5"/>
<path d="M249.54,521.4 L251.04,518.77 L248.04,518.77 Z" fill="#fff" stroke="#9b45f5" stroke-width="0.5"/>
<path d="M264.71,542.5 L266.21,539.88 L263.21,539.88 Z" fill="#fff" stroke="#9b45f5" stroke-width="0.5"/>
<path d="M279.88,563.1 L281.38,560.48 L278.38,560.48 Z" fill="#fff" stroke="#9b45f5" stroke-width="0.5"/>
<path d="M295.05,585.1 L296.55,582.48 L293.55,582.48 Z" fill="#fff" stroke="#9b45f5" stroke-width="0.5"/>
<path d="M310.22,607.3 L311.72,604.67 L308.72,604.67 Z" fill="#fff" stroke="#9b45f5" stroke-width="0.5"/>
<path d="M325.39,630.3 L326.89,627.67 L323.89,627.67 Z" fill="#fff" stroke="#9b45f5" stroke-width="0.5"/>
<path d="M340.56,653.5 L342.06,650.88 L339.06,650.88 Z" fill="#fff" stroke="#9b45f5" stroke-width="0.5"/>
<path d="M355.73,676.5 L357.23,673.88 L354.23,673.88 Z" fill="#fff" stroke="#9b45f5" stroke-width="0.5"/>
<path d="M370.9,699.5 L372.4,696.88 L369.4,696.88 Z" fill="#fff" stroke="#9b45f5" stroke-width="0.5"/>
<path d="M386.07,721.5 L387.57,718.88 L384.57,718.88 Z" fill="#fff" stroke="#9b45f5" stroke-width="0.5"/>
<path d="M219.2,474.3 C221.73,478.07 229.31,489.3 234.37,496.9 C239.43,504.5 244.48,512.5 249.54,519.9 C254.6,527.3 259.65,534.67 264.71,541.3 C269.77,547.93 274.82,554.02 279.88,559.7 C284.94,565.38 289.99,570.5 295.05,575.4 C300.11,580.3 305.16,584.73 310.22,589.1 C315.28,593.47 320.33,597.67 325.39,601.6 C330.45,605.53 335.5,609.12 340.56,612.7 C345.62,616.28 350.67,618.33 355.73,623.1 C360.79,627.87 365.84,637.05 370.9,641.3 C375.96,645.55 383.54,647.38 386.07,648.6" stroke="#1e1eff"/>
<path d="M219.2,472.5 L221,475.65 L217.4,475.65 Z" fill="#1e1eff"/>
<path d="M234.37,495.1 L236.17,498.25 L232.57,498.25 Z" fill="#1e1eff"/>
<path d="M249.54,518.1 L251.34,521.25 L247.74,521.25 Z" fill="#1e1eff"/>
<path d="M264.71,539.5 L266.51,542.65 L262.91,542.65 Z" fill="#1e1eff"/>
<path d="M279.88,557.9 L281.68,561.05 L278.08,561.05 Z" fill="#1e1eff"/>
<path d="M295.05,573.6 L296.85,576.75 L293.25,576.75 Z" fill="#1e1eff"/>
<path d="M310.22,587.3 L312.02,590.45 L308.42,590.45 Z" fill="#1e1eff"/>
<path d="M325.39,599.8 L327.19,602.95 L323.59,602.95 Z" fill="#1e1eff"/>
<path d="M340.56,610.9 L342.36,614.05 L338.76,614.05 Z" fill="#1e1eff"/>
<path d="M355.73,621.3 L357.53,624.45 L353.93,624.45 Z" fill="#1e1eff"/>
<path d="M370.9,639.5 L372.7,642.65 L369.1,642.65 Z" fill="#1e1eff"/>
<path d="M386.07,646.8 L387.87,649.95 L384.27,649.95 Z" fill="#1e1eff"/>
<path d="M219.2,470.3 C221.73,472.67 229.31,479.52 234.37,484.5 C239.43,489.48 244.48,495.12 249.54,500.2 C254.6,505.28 259.65,510.25 264.71,515 C269.77,519.75 274.82,524.28 279.88,528.7 C284.94,533.12 289.99,537.25 295.05,541.5 C300.11,545.75 305.16,550 310.22,554.2 C315.28,558.4 320.33,562.7 325.39,566.7 C330.45,570.7 335.5,574.4 340.56,578.2 C345.62,582 350.67,584.73 355.73,589.5 C360.79,594.27 365.84,602.8 370.9,606.8 C375.96,610.8 383.54,612.38 386.07,613.5" stroke="#7d7d1e"/>
<circle cx="219.2" cy="470.3" r="1.45" fill="#7d7d1e"/>
<circle cx="234.37" cy="484.5" r="1.45" fill="#7d7d1e"/>
<circle cx="249.54" cy="500.2" r="1.45" fill="#7d7d1e"/>
<circle cx="264.71" cy="515" r="1.45" fill="#7d7d1e"/>
<circle cx="279.88" cy="528.7" r="1.45" fill="#7d7d1e"/>
<circle cx="295.05" cy="541.5" r="1.45" fill="#7d7d1e"/>
<circle cx="310.22" cy="554.2" r="1.45" fill="#7d7d1e"/>
<circle cx="325.39" cy="566.7" r="1.45" fill="#7d7d1e"/>
<circle cx="340.56" cy="578.2" r="1.45" fill="#7d7d1e"/>
<circle cx="355.73" cy="589.5" r="1.45" fill="#7d7d1e"/>
<circle cx="370.9" cy="606.8" r="1.45" fill="#7d7d1e"/>
<circle cx="386.07" cy="613.5" r="1.45" fill="#7d7d1e"/>
<path d="M219.2,527.3 C226.78,526.98 249.54,525.82 264.71,525.4 C279.88,524.98 295.05,525.05 310.22,524.8 C325.39,524.55 340.56,524.12 355.73,523.9 C370.9,523.68 393.66,523.57 401.24,523.5" stroke="#1a1a1a" stroke-width="0.9"/>
<circle cx="219.2" cy="527.3" r="1.38" fill="#000"/>
<circle cx="264.71" cy="525.4" r="1.38" fill="#000"/>
<circle cx="310.22" cy="524.8" r="1.38" fill="#000"/>
<circle cx="355.73" cy="523.9" r="1.38" fill="#000"/>
</g>
<g stroke="#1a1a1a" stroke-width="1.2" fill="none"><line x1="42" y1="460.9" x2="42" y2="651.3"/><line x1="401.2" y1="460.9" x2="401.2" y2="651.3"/><line x1="42" y1="461.5" x2="208.6" y2="461.5"/><line x1="218.6" y1="461.5" x2="401.2" y2="461.5"/><line x1="42" y1="650.7" x2="208.6" y2="650.7"/><line x1="218.6" y1="650.7" x2="401.2" y2="650.7"/><line x1="36.3" y1="650.7" x2="42" y2="650.7"/><line x1="36.3" y1="619.17" x2="42" y2="619.17"/><line x1="36.3" y1="587.63" x2="42" y2="587.63"/><line x1="36.3" y1="556.1" x2="42" y2="556.1"/><line x1="36.3" y1="524.57" x2="42" y2="524.57"/><line x1="36.3" y1="493.03" x2="42" y2="493.03"/><line x1="36.3" y1="461.5" x2="42" y2="461.5"/><line x1="39" y1="634.93" x2="42" y2="634.93"/><line x1="39" y1="603.4" x2="42" y2="603.4"/><line x1="39" y1="571.87" x2="42" y2="571.87"/><line x1="39" y1="540.33" x2="42" y2="540.33"/><line x1="39" y1="508.8" x2="42" y2="508.8"/><line x1="39" y1="477.27" x2="42" y2="477.27"/><line x1="42" y1="650.7" x2="42" y2="656.2"/><line x1="57.16" y1="650.7" x2="57.16" y2="653.7"/><line x1="72.32" y1="650.7" x2="72.32" y2="656.2"/><line x1="87.48" y1="650.7" x2="87.48" y2="653.7"/><line x1="102.64" y1="650.7" x2="102.64" y2="656.2"/><line x1="117.8" y1="650.7" x2="117.8" y2="653.7"/><line x1="132.96" y1="650.7" x2="132.96" y2="656.2"/><line x1="148.12" y1="650.7" x2="148.12" y2="653.7"/><line x1="163.28" y1="650.7" x2="163.28" y2="656.2"/><line x1="178.44" y1="650.7" x2="178.44" y2="653.7"/><line x1="193.6" y1="650.7" x2="193.6" y2="656.2"/><line x1="219.2" y1="650.7" x2="219.2" y2="656.2"/><line x1="234.37" y1="650.7" x2="234.37" y2="653.7"/><line x1="249.54" y1="650.7" x2="249.54" y2="656.2"/><line x1="264.71" y1="650.7" x2="264.71" y2="653.7"/><line x1="279.88" y1="650.7" x2="279.88" y2="656.2"/><line x1="295.05" y1="650.7" x2="295.05" y2="653.7"/><line x1="310.22" y1="650.7" x2="310.22" y2="656.2"/><line x1="325.39" y1="650.7" x2="325.39" y2="653.7"/><line x1="340.56" y1="650.7" x2="340.56" y2="656.2"/><line x1="355.73" y1="650.7" x2="355.73" y2="653.7"/><line x1="370.9" y1="650.7" x2="370.9" y2="656.2"/><line x1="386.07" y1="650.7" x2="386.07" y2="653.7"/><line x1="401.24" y1="650.7" x2="401.24" y2="656.2"/></g>
<g stroke="#111" stroke-width="1.1"><line x1="208.1" y1="466.8" x2="214.1" y2="456.2"/><line x1="214.2" y1="466.8" x2="220.2" y2="456.2"/><line x1="208.1" y1="656" x2="214.1" y2="645.4"/><line x1="214.2" y1="656" x2="220.2" y2="645.4"/></g>
<g font-family="Liberation Serif, serif"><rect x="43.5" y="623.5" width="275.5" height="25" fill="#fff" stroke="#8c8c8c" stroke-width="1"/><line x1="44.1" y1="630.8" x2="65.7" y2="630.8" stroke="#444" stroke-width="1"/><circle cx="54.7" cy="630.8" r="1.45" fill="#000"/><text x="68.5" y="634.1" font-size="9.3" fill="#000">ECMWF</text><line x1="104.4" y1="630.8" x2="126" y2="630.8" stroke="#1e1eff" stroke-width="1"/><path d="M115.2,629 L117,632.15 L113.4,632.15 Z" fill="#1e1eff"/><text x="128.3" y="634.1" font-size="9.3" fill="#000">ConvLSTM</text><line x1="175.4" y1="630.8" x2="197" y2="630.8" stroke="#2cf02c" stroke-width="1"/><circle cx="186.2" cy="630.8" r="1.45" fill="#2cf02c"/><text x="199.5" y="634.1" font-size="9.3" fill="#000">STDGN</text><line x1="250.6" y1="630.8" x2="272.2" y2="630.8" stroke="#55f8f8" stroke-width="1"/><circle cx="261.4" cy="630.8" r="1.45" fill="#55f8f8"/><text x="274.4" y="634.1" font-size="9.3" fill="#000">TAU</text><line x1="44.1" y1="642.4" x2="65.7" y2="642.4" stroke="#a6ad62" stroke-width="1"/><circle cx="54.7" cy="642.4" r="1.45" fill="#7d7d1e"/><text x="68.5" y="645.7" font-size="9.3" fill="#000">SimVP</text><line x1="104.4" y1="642.4" x2="126" y2="642.4" stroke="#9b45f5" stroke-width="1"/><path d="M115.2,643.9 L116.7,641.27 L113.7,641.27 Z" fill="#fff" stroke="#9b45f5" stroke-width="0.5"/><text x="128.3" y="645.7" font-size="9.3" fill="#000">E3DLSTM</text><line x1="175.4" y1="642.4" x2="197" y2="642.4" stroke="#e2483f" stroke-width="1"/><path d="M186.2,640.8 L187.8,643.6 L184.6,643.6 Z" fill="#e37d78" stroke="#e2483f" stroke-width="0.5"/><text x="199.5" y="645.7" font-size="9.3" fill="#000">MFWPN-12</text><line x1="250.6" y1="642.4" x2="272.2" y2="642.4" stroke="#ee4eee" stroke-width="1"/><path d="M261.4,644 L263,641.2 L259.8,641.2 Z" fill="#f0a0f0" stroke="#ee4eee" stroke-width="0.5"/><text x="274.4" y="645.7" font-size="9.3" fill="#000">MFWPN-6</text></g>
<g font-family="Liberation Serif, serif" font-size="9.2" fill="#000"><text x="32.4" y="653.2" text-anchor="end">0.70</text><text x="32.4" y="621.67" text-anchor="end">0.75</text><text x="32.4" y="590.13" text-anchor="end">0.80</text><text x="32.4" y="558.6" text-anchor="end">0.85</text><text x="32.4" y="527.07" text-anchor="end">0.90</text><text x="32.4" y="495.53" text-anchor="end">0.95</text><text x="32.4" y="464" text-anchor="end">1.00</text><text x="42" y="668" text-anchor="middle">0</text><text x="72.32" y="668" text-anchor="middle">2</text><text x="102.64" y="668" text-anchor="middle">4</text><text x="132.96" y="668" text-anchor="middle">6</text><text x="163.28" y="668" text-anchor="middle">8</text><text x="193.6" y="668" text-anchor="middle">10</text><text x="219.2" y="668" text-anchor="middle">12</text><text x="249.54" y="668" text-anchor="middle">14</text><text x="279.88" y="668" text-anchor="middle">16</text><text x="310.22" y="668" text-anchor="middle">18</text><text x="340.56" y="668" text-anchor="middle">20</text><text x="370.9" y="668" text-anchor="middle">22</text><text x="401.24" y="668" text-anchor="middle">24</text></g>
<text font-family="Liberation Serif, serif" font-size="11.2" fill="#000" x="221.75" y="681.8" text-anchor="middle">Time[Hour]</text>
<text font-family="Liberation Serif, serif" font-size="11.2" fill="#111" text-anchor="middle" transform="translate(10.7,556) rotate(-90)">Wind Speed ACC</text>
<text font-family="Liberation Serif, serif" font-size="12.7" font-weight="bold" fill="#000" x="1.2" y="469.2">c)</text>
</svg></body></html>
